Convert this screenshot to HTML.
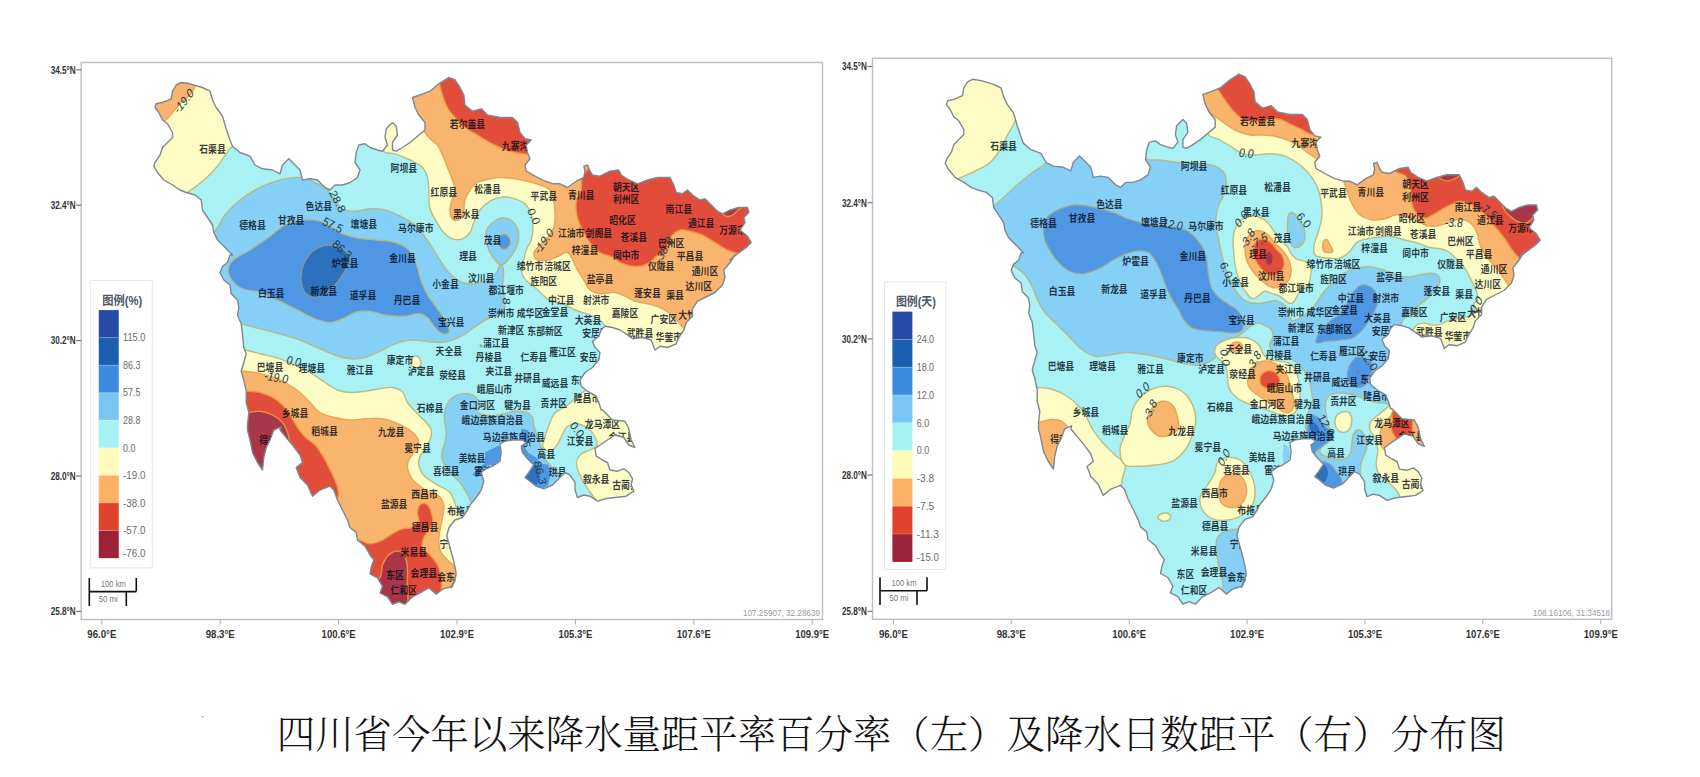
<!DOCTYPE html>
<html lang="zh"><head><meta charset="utf-8"><title>四川省降水分布图</title>
<style>
html,body{margin:0;padding:0;background:#fff;width:1700px;height:777px;overflow:hidden;}
svg{display:block;}
text{font-family:"Liberation Sans","Noto Sans CJK SC",sans-serif;}
.ax{font-size:10.5px;font-weight:bold;fill:#333;}
.lg{font-size:10.5px;fill:#6a6a6a;}
.cty{font-size:10.3px;font-weight:bold;fill:#000814;fill-opacity:0.8;}
.ctr{font-size:12.5px;font-style:italic;fill:#1b3a48;}
</style></head><body>
<svg width="1700" height="777" viewBox="0 0 1700 777">
<defs>
<clipPath id="cl"><path d="M181.2,82.5 L190.0,83.8 L202.5,87.5 L210.0,91.2 L212.5,100.0 L216.2,107.5 L222.5,116.2 L226.2,128.8 L230.0,140.0 L232.5,146.2 L240.0,152.5 L250.0,156.2 L255.0,165.0 L262.5,168.8 L272.5,170.0 L280.0,173.8 L282.5,165.0 L288.8,158.8 L293.8,163.8 L300.0,170.0 L302.5,180.0 L310.0,178.8 L317.5,180.0 L325.0,187.5 L330.0,190.0 L335.0,185.0 L342.5,185.0 L350.0,182.5 L357.5,177.5 L360.0,170.0 L355.0,162.5 L356.2,152.5 L358.8,145.0 L365.0,143.8 L370.0,147.5 L377.5,150.0 L382.5,151.2 L387.5,145.0 L385.0,137.5 L386.2,128.8 L392.5,122.5 L396.2,126.2 L397.5,135.0 L392.5,142.5 L392.5,150.0 L396.2,151.2 L402.5,147.5 L410.0,142.5 L417.5,136.2 L425.0,130.0 L425.0,122.5 L418.8,115.0 L415.0,107.5 L412.5,97.5 L420.0,95.0 L430.0,91.2 L438.8,83.8 L448.8,77.5 L455.0,80.0 L460.0,87.5 L463.8,95.0 L465.0,105.0 L472.5,111.2 L481.2,108.8 L487.5,115.0 L500.0,117.5 L512.5,117.5 L517.5,122.5 L520.0,132.5 L525.0,138.8 L531.2,140.0 L526.2,145.0 L527.5,152.5 L530.0,158.8 L525.0,165.0 L526.2,171.2 L535.0,176.2 L545.0,181.2 L553.8,183.8 L560.0,183.8 L567.5,187.5 L576.2,181.2 L583.8,177.5 L585.0,171.2 L583.8,166.2 L587.5,165.0 L590.0,171.2 L592.5,175.0 L600.0,176.2 L610.0,171.2 L618.8,170.0 L621.2,175.0 L628.8,180.0 L637.5,183.8 L647.5,180.0 L657.5,177.5 L670.0,177.5 L673.8,185.0 L676.2,192.5 L682.5,193.8 L687.5,190.0 L692.5,195.0 L700.0,200.0 L705.0,198.8 L711.2,205.0 L717.5,211.2 L722.5,213.8 L730.0,210.0 L738.8,207.5 L747.5,207.5 L748.8,212.5 L743.8,217.5 L745.0,222.5 L740.0,230.0 L747.5,236.2 L751.2,242.5 L746.2,247.5 L737.5,253.8 L730.0,260.0 L735.0,255.0 L730.0,262.5 L723.8,270.0 L725.0,277.5 L722.5,285.0 L715.0,292.5 L705.0,297.5 L697.5,301.2 L692.5,308.8 L692.5,316.2 L686.2,322.5 L683.8,330.0 L678.8,337.5 L676.2,343.8 L667.5,347.5 L660.0,346.2 L655.0,350.0 L651.2,340.0 L642.5,337.5 L632.5,338.8 L627.5,335.0 L620.0,330.0 L612.5,327.5 L605.0,326.2 L601.2,330.0 L598.8,336.2 L592.5,341.2 L595.0,347.5 L600.0,352.5 L598.8,360.0 L592.5,367.5 L585.0,372.5 L580.0,380.0 L581.2,386.2 L587.5,391.2 L596.2,396.2 L598.8,402.5 L601.2,410.0 L602.5,410.0 L612.5,420.0 L625.0,421.2 L628.8,428.8 L631.2,440.0 L635.0,447.5 L628.8,445.0 L623.8,437.5 L615.0,435.0 L607.5,440.0 L600.0,445.0 L595.0,448.8 L596.2,456.2 L602.5,460.0 L607.5,462.5 L610.0,470.0 L617.5,471.2 L623.8,468.8 L628.8,472.5 L632.5,478.8 L631.2,485.0 L633.8,491.2 L626.2,496.2 L615.0,497.5 L605.0,498.8 L597.5,501.2 L590.0,496.2 L583.8,495.0 L577.5,497.5 L575.0,490.0 L575.0,482.5 L570.0,475.0 L565.0,472.5 L560.0,477.5 L552.5,485.0 L543.8,488.8 L536.2,486.2 L530.0,481.2 L525.0,477.5 L528.8,472.5 L533.8,465.0 L527.5,458.8 L522.5,452.5 L521.2,446.2 L526.2,442.5 L522.5,440.0 L512.5,440.0 L505.0,441.2 L500.0,443.8 L501.2,452.5 L500.0,461.2 L492.5,466.2 L486.2,468.8 L481.2,472.5 L483.8,481.2 L481.2,490.0 L476.2,497.5 L470.0,505.0 L467.5,510.0 L462.5,517.5 L455.0,520.0 L449.0,527.5 L446.8,536.2 L450.0,547.5 L453.5,560.0 L456.0,572.5 L455.0,580.7 L451.2,587.8 L456.2,575.0 L452.5,586.4 L442.5,589.2 L436.2,594.3 L428.8,587.8 L420.0,593.0 L412.5,596.8 L405.0,604.3 L398.8,601.8 L392.5,604.3 L387.5,596.8 L380.0,593.0 L382.5,586.4 L377.5,577.8 L370.0,573.8 L371.2,567.5 L373.8,560.0 L370.0,555.0 L365.0,546.2 L357.5,540.0 L356.2,532.5 L350.0,527.5 L347.5,520.0 L342.5,510.0 L337.5,500.0 L333.8,490.0 L330.0,486.2 L320.0,490.0 L312.5,496.2 L307.5,485.0 L300.0,477.5 L296.2,467.5 L302.5,462.5 L300.0,455.0 L292.5,445.0 L286.2,437.5 L280.0,430.0 L281.0,427.0 L277.0,428.5 L273.8,430.0 L270.0,440.0 L266.2,447.5 L263.8,457.5 L262.5,470.0 L257.5,462.5 L252.5,452.5 L250.0,440.0 L247.5,430.0 L247.5,425.0 L248.8,412.5 L246.2,402.5 L246.2,391.2 L243.8,380.0 L241.2,371.2 L243.8,362.5 L246.2,353.8 L243.8,347.5 L242.5,335.0 L241.2,323.8 L237.5,315.0 L238.8,307.5 L237.5,300.0 L231.2,293.8 L230.0,285.0 L223.8,280.0 L220.0,272.5 L222.5,266.2 L227.5,262.5 L230.0,255.0 L232.5,255.0 L225.0,247.5 L217.5,240.0 L213.8,232.5 L212.5,225.0 L207.5,217.5 L202.5,210.0 L201.2,200.0 L195.0,195.0 L186.2,192.5 L180.0,190.0 L172.5,185.0 L163.8,180.0 L157.5,172.5 L153.8,166.2 L155.0,162.5 L160.0,155.0 L162.5,147.5 L167.5,142.5 L172.5,137.5 L172.5,132.5 L167.5,123.8 L162.5,120.0 L158.8,112.5 L155.0,107.5 L156.2,103.8 L162.5,102.5 L171.2,98.8 L172.5,91.2 L176.2,85.0Z"/></clipPath>
<clipPath id="cr"><path d="M972.5,79.3 L981.2,80.6 L993.7,84.3 L1001.1,88.0 L1003.6,96.9 L1007.3,104.4 L1013.6,113.2 L1017.3,125.8 L1021.1,137.1 L1023.5,143.4 L1031.0,149.7 L1041.0,153.4 L1046.0,162.3 L1053.4,166.1 L1063.4,167.3 L1070.8,171.1 L1073.3,162.3 L1079.6,156.0 L1084.6,161.1 L1090.8,167.3 L1093.3,177.4 L1100.7,176.1 L1108.2,177.4 L1115.7,184.9 L1120.6,187.4 L1125.6,182.4 L1133.1,182.4 L1140.6,179.9 L1148.0,174.8 L1150.5,167.3 L1145.5,159.7 L1146.7,149.7 L1149.3,142.1 L1155.5,140.9 L1160.5,144.7 L1167.9,147.2 L1172.9,148.4 L1177.9,142.1 L1175.4,134.6 L1176.6,125.8 L1182.9,119.5 L1186.6,123.2 L1187.9,132.1 L1182.9,139.6 L1182.9,147.2 L1186.6,148.4 L1192.8,144.7 L1200.3,139.6 L1207.8,133.3 L1215.2,127.1 L1215.2,119.5 L1209.1,112.0 L1205.3,104.4 L1202.8,94.4 L1210.3,91.8 L1220.2,88.0 L1229.0,80.6 L1238.9,74.2 L1245.1,76.8 L1250.1,84.3 L1253.9,91.8 L1255.1,101.9 L1262.5,108.1 L1271.2,105.7 L1277.5,112.0 L1289.9,114.5 L1302.4,114.5 L1307.3,119.5 L1309.8,129.6 L1314.8,135.9 L1321.0,137.1 L1316.0,142.1 L1317.3,149.7 L1319.8,156.0 L1314.8,162.3 L1316.0,168.5 L1324.8,173.5 L1334.7,178.6 L1343.5,181.2 L1349.7,181.2 L1357.1,184.9 L1365.8,178.6 L1373.4,174.8 L1374.6,168.5 L1373.4,163.5 L1377.0,162.3 L1379.5,168.5 L1382.0,172.3 L1389.5,173.5 L1399.5,168.5 L1408.2,167.3 L1410.6,172.3 L1418.2,177.4 L1426.8,181.2 L1436.8,177.4 L1446.8,174.8 L1459.2,174.8 L1463.0,182.4 L1465.4,189.9 L1471.6,191.2 L1476.6,187.4 L1481.6,192.4 L1489.1,197.5 L1494.1,196.3 L1500.2,202.5 L1506.5,208.7 L1511.5,211.4 L1518.9,207.5 L1527.7,205.0 L1536.4,205.0 L1537.7,210.0 L1532.7,215.1 L1533.9,220.1 L1528.9,227.6 L1536.4,233.9 L1540.1,240.2 L1535.1,245.2 L1526.4,251.6 L1518.9,257.8 L1523.9,252.8 L1518.9,260.3 L1512.8,267.9 L1514.0,275.4 L1511.5,283.0 L1504.0,290.5 L1494.1,295.5 L1486.6,299.3 L1481.6,306.9 L1481.6,314.4 L1475.3,320.7 L1472.9,328.2 L1468.0,335.8 L1465.4,342.1 L1456.7,345.8 L1449.2,344.5 L1444.3,348.4 L1440.5,338.3 L1431.8,335.8 L1421.9,337.1 L1416.9,333.3 L1409.4,328.2 L1401.9,325.7 L1394.5,324.4 L1390.7,328.2 L1388.3,334.5 L1382.0,339.5 L1384.5,345.8 L1389.5,350.9 L1388.3,358.4 L1382.0,366.0 L1374.6,371.0 L1369.6,378.5 L1370.8,384.8 L1377.0,389.8 L1385.7,394.8 L1388.3,401.2 L1390.7,408.7 L1392.0,408.7 L1401.9,418.8 L1414.4,420.0 L1418.2,427.6 L1420.6,438.9 L1424.3,446.4 L1418.2,443.9 L1413.2,436.4 L1404.4,433.9 L1397.0,438.9 L1389.5,443.9 L1384.5,447.7 L1385.7,455.2 L1392.0,459.0 L1397.0,461.5 L1399.5,469.1 L1406.9,470.3 L1413.2,467.9 L1418.2,471.6 L1421.9,477.9 L1420.6,484.2 L1423.2,490.4 L1415.6,495.4 L1404.4,496.7 L1394.5,498.0 L1387.0,500.4 L1379.5,495.4 L1373.4,494.2 L1367.1,496.7 L1364.6,489.2 L1364.6,481.6 L1359.6,474.1 L1354.6,471.6 L1349.7,476.6 L1342.2,484.2 L1333.5,488.0 L1326.0,485.4 L1319.8,480.3 L1314.8,476.6 L1318.6,471.6 L1323.6,464.0 L1317.3,457.8 L1312.3,451.5 L1311.0,445.1 L1316.0,441.4 L1312.3,438.9 L1302.4,438.9 L1294.9,440.1 L1289.9,442.7 L1291.1,451.5 L1289.9,460.2 L1282.4,465.2 L1276.2,467.9 L1271.2,471.6 L1273.8,480.3 L1271.2,489.2 L1266.2,496.7 L1260.0,504.3 L1257.6,509.3 L1252.6,516.8 L1245.1,519.4 L1239.1,526.9 L1236.9,535.7 L1240.1,547.0 L1243.6,559.6 L1246.1,572.2 L1245.1,580.4 L1241.3,587.5 L1246.3,574.7 L1242.6,586.1 L1232.7,589.0 L1226.4,594.1 L1219.0,587.5 L1210.3,592.8 L1202.8,596.6 L1195.3,604.2 L1189.1,601.6 L1182.9,604.2 L1177.9,596.6 L1170.4,592.8 L1172.9,586.1 L1167.9,577.5 L1160.5,573.5 L1161.7,567.1 L1164.3,559.6 L1160.5,554.6 L1155.5,545.7 L1148.0,539.5 L1146.7,531.9 L1140.6,526.9 L1138.1,519.4 L1133.1,509.3 L1128.1,499.2 L1124.4,489.2 L1120.6,485.4 L1110.7,489.2 L1103.2,495.4 L1098.2,484.2 L1090.8,476.6 L1087.0,466.5 L1093.3,461.5 L1090.8,454.0 L1083.3,443.9 L1077.0,436.4 L1070.8,428.8 L1071.8,425.8 L1067.9,427.3 L1064.7,428.8 L1060.9,438.9 L1057.1,446.4 L1054.7,456.5 L1053.4,469.1 L1048.4,461.5 L1043.5,451.5 L1041.0,438.9 L1038.5,428.8 L1038.5,423.8 L1039.8,411.2 L1037.2,401.2 L1037.2,389.8 L1034.8,378.5 L1032.2,369.7 L1034.8,360.9 L1037.2,352.2 L1034.8,345.8 L1033.5,333.3 L1032.2,322.0 L1028.5,313.1 L1029.8,305.6 L1028.5,298.1 L1022.3,291.8 L1021.1,283.0 L1014.9,277.9 L1011.1,270.4 L1013.6,264.1 L1018.6,260.3 L1021.1,252.8 L1023.5,252.8 L1016.1,245.2 L1008.6,237.7 L1004.9,230.2 L1003.6,222.6 L998.7,215.1 L993.7,207.5 L992.4,197.5 L986.2,192.4 L977.4,189.9 L971.3,187.4 L963.8,182.4 L955.1,177.4 L948.9,169.8 L945.2,163.5 L946.4,159.7 L951.4,152.2 L953.8,144.7 L958.8,139.6 L963.8,134.6 L963.8,129.6 L958.8,120.8 L953.8,117.0 L950.2,109.5 L946.4,104.4 L947.6,100.7 L953.8,99.4 L962.5,95.7 L963.8,88.0 L967.5,81.8Z"/></clipPath>
</defs>
<rect width="1700" height="777" fill="#fff"/>

<rect x="81.2" y="62.5" width="741.3" height="557" fill="#fff" stroke="#babec8" stroke-width="1.4"/>
<rect x="872.5" y="58.3" width="739.2" height="561" fill="#fff" stroke="#babec8" stroke-width="1.4"/>
<line x1="101.8" y1="619.5" x2="101.8" y2="624.5" stroke="#aab" stroke-width="1"/>
<text class="ax" x="101.8" y="638.0" text-anchor="middle" textLength="29" lengthAdjust="spacingAndGlyphs">96.0°E</text>
<line x1="220.2" y1="619.5" x2="220.2" y2="624.5" stroke="#aab" stroke-width="1"/>
<text class="ax" x="220.2" y="638.0" text-anchor="middle" textLength="29" lengthAdjust="spacingAndGlyphs">98.3°E</text>
<line x1="338.6" y1="619.5" x2="338.6" y2="624.5" stroke="#aab" stroke-width="1"/>
<text class="ax" x="338.6" y="638.0" text-anchor="middle" textLength="34" lengthAdjust="spacingAndGlyphs">100.6°E</text>
<line x1="457.0" y1="619.5" x2="457.0" y2="624.5" stroke="#aab" stroke-width="1"/>
<text class="ax" x="457.0" y="638.0" text-anchor="middle" textLength="34" lengthAdjust="spacingAndGlyphs">102.9°E</text>
<line x1="575.4" y1="619.5" x2="575.4" y2="624.5" stroke="#aab" stroke-width="1"/>
<text class="ax" x="575.4" y="638.0" text-anchor="middle" textLength="34" lengthAdjust="spacingAndGlyphs">105.3°E</text>
<line x1="693.8" y1="619.5" x2="693.8" y2="624.5" stroke="#aab" stroke-width="1"/>
<text class="ax" x="693.8" y="638.0" text-anchor="middle" textLength="34" lengthAdjust="spacingAndGlyphs">107.6°E</text>
<line x1="812.2" y1="619.5" x2="812.2" y2="624.5" stroke="#aab" stroke-width="1"/>
<text class="ax" x="812.2" y="638.0" text-anchor="middle" textLength="34" lengthAdjust="spacingAndGlyphs">109.9°E</text>
<line x1="76.2" y1="69.8" x2="81.2" y2="69.8" stroke="#777" stroke-width="1.2"/>
<text class="ax" x="75.7" y="73.6" text-anchor="end" textLength="25" lengthAdjust="spacingAndGlyphs">34.5°N</text>
<line x1="76.2" y1="205.2" x2="81.2" y2="205.2" stroke="#777" stroke-width="1.2"/>
<text class="ax" x="75.7" y="209.0" text-anchor="end" textLength="25" lengthAdjust="spacingAndGlyphs">32.4°N</text>
<line x1="76.2" y1="340.6" x2="81.2" y2="340.6" stroke="#777" stroke-width="1.2"/>
<text class="ax" x="75.7" y="344.4" text-anchor="end" textLength="25" lengthAdjust="spacingAndGlyphs">30.2°N</text>
<line x1="76.2" y1="476.0" x2="81.2" y2="476.0" stroke="#777" stroke-width="1.2"/>
<text class="ax" x="75.7" y="479.8" text-anchor="end" textLength="25" lengthAdjust="spacingAndGlyphs">28.0°N</text>
<line x1="76.2" y1="611.4" x2="81.2" y2="611.4" stroke="#777" stroke-width="1.2"/>
<text class="ax" x="75.7" y="615.2" text-anchor="end" textLength="25" lengthAdjust="spacingAndGlyphs">25.8°N</text>
<line x1="893.4" y1="619.3" x2="893.4" y2="624.3" stroke="#aab" stroke-width="1"/>
<text class="ax" x="893.4" y="637.8" text-anchor="middle" textLength="29" lengthAdjust="spacingAndGlyphs">96.0°E</text>
<line x1="1011.2" y1="619.3" x2="1011.2" y2="624.3" stroke="#aab" stroke-width="1"/>
<text class="ax" x="1011.2" y="637.8" text-anchor="middle" textLength="29" lengthAdjust="spacingAndGlyphs">98.3°E</text>
<line x1="1129.2" y1="619.3" x2="1129.2" y2="624.3" stroke="#aab" stroke-width="1"/>
<text class="ax" x="1129.2" y="637.8" text-anchor="middle" textLength="34" lengthAdjust="spacingAndGlyphs">100.6°E</text>
<line x1="1247.1" y1="619.3" x2="1247.1" y2="624.3" stroke="#aab" stroke-width="1"/>
<text class="ax" x="1247.1" y="637.8" text-anchor="middle" textLength="34" lengthAdjust="spacingAndGlyphs">102.9°E</text>
<line x1="1365.0" y1="619.3" x2="1365.0" y2="624.3" stroke="#aab" stroke-width="1"/>
<text class="ax" x="1365.0" y="637.8" text-anchor="middle" textLength="34" lengthAdjust="spacingAndGlyphs">105.3°E</text>
<line x1="1482.8" y1="619.3" x2="1482.8" y2="624.3" stroke="#aab" stroke-width="1"/>
<text class="ax" x="1482.8" y="637.8" text-anchor="middle" textLength="34" lengthAdjust="spacingAndGlyphs">107.6°E</text>
<line x1="1600.8" y1="619.3" x2="1600.8" y2="624.3" stroke="#aab" stroke-width="1"/>
<text class="ax" x="1600.8" y="637.8" text-anchor="middle" textLength="34" lengthAdjust="spacingAndGlyphs">109.9°E</text>
<line x1="867.5" y1="66.5" x2="872.5" y2="66.5" stroke="#777" stroke-width="1.2"/>
<text class="ax" x="867.0" y="70.3" text-anchor="end" textLength="25" lengthAdjust="spacingAndGlyphs">34.5°N</text>
<line x1="867.5" y1="202.7" x2="872.5" y2="202.7" stroke="#777" stroke-width="1.2"/>
<text class="ax" x="867.0" y="206.5" text-anchor="end" textLength="25" lengthAdjust="spacingAndGlyphs">32.4°N</text>
<line x1="867.5" y1="338.9" x2="872.5" y2="338.9" stroke="#777" stroke-width="1.2"/>
<text class="ax" x="867.0" y="342.7" text-anchor="end" textLength="25" lengthAdjust="spacingAndGlyphs">30.2°N</text>
<line x1="867.5" y1="475.1" x2="872.5" y2="475.1" stroke="#777" stroke-width="1.2"/>
<text class="ax" x="867.0" y="478.9" text-anchor="end" textLength="25" lengthAdjust="spacingAndGlyphs">28.0°N</text>
<line x1="867.5" y1="611.3" x2="872.5" y2="611.3" stroke="#777" stroke-width="1.2"/>
<text class="ax" x="867.0" y="615.1" text-anchor="end" textLength="25" lengthAdjust="spacingAndGlyphs">25.8°N</text>
<g clip-path="url(#cl)"><rect x="140" y="70" width="640" height="550" fill="#a9f1f4"/>
<path d="M200.0,240.0C202.5,235.4 209.9,236.1 213.8,232.5C218.8,227.8 220.6,220.4 225.0,215.0C229.4,209.5 234.5,204.4 240.0,200.0C246.2,195.1 253.0,191.0 260.0,187.5C266.4,184.3 273.1,181.7 280.0,180.0C286.5,178.4 293.3,176.8 300.0,177.5C305.2,178.0 310.2,180.3 315.0,182.5C319.4,184.5 323.9,186.7 327.5,190.0C330.6,192.8 332.4,196.7 335.0,200.0C337.4,203.1 339.1,207.0 342.5,209.0C346.2,211.1 350.8,211.2 355.0,211.2C360.1,211.3 364.9,209.0 370.0,208.8C375.0,208.5 380.1,208.8 385.0,210.0C390.2,211.2 395.2,213.6 400.0,216.0C405.6,218.8 411.3,221.8 416.0,226.0C421.2,230.7 424.8,236.8 428.8,242.5C431.9,246.9 434.5,251.7 437.5,256.2C441.5,262.2 444.9,268.7 450.0,273.8C453.6,277.3 457.7,280.7 462.5,282.5C466.4,284.0 470.8,284.2 475.0,283.8C479.3,283.3 483.7,282.1 487.5,280.0C491.1,278.0 494.3,275.1 497.0,272.0C498.8,269.9 498.5,264.7 501.2,265.0C503.7,265.3 503.2,269.6 503.5,272.0C504.1,277.0 502.3,282.0 502.5,287.0C502.7,292.1 504.9,296.9 505.0,302.0C505.0,305.0 505.3,308.4 503.8,311.0C502.7,312.7 500.7,313.6 499.0,314.5C496.2,316.0 492.9,316.2 490.0,317.5C485.6,319.5 481.6,322.4 477.5,325.0C473.2,327.8 469.4,331.1 465.0,333.8C461.0,336.1 456.9,338.5 452.5,340.0C448.5,341.4 444.2,342.3 440.0,342.5C435.0,342.8 430.0,341.7 425.0,341.2C420.0,340.8 415.0,339.6 410.0,340.0C404.9,340.4 399.8,342.0 395.0,343.8C389.8,345.7 385.1,348.9 380.0,351.2C375.1,353.5 370.3,356.2 365.0,357.5C360.1,358.7 355.0,359.2 350.0,358.8C344.9,358.3 339.9,356.6 335.0,355.0C329.9,353.3 325.0,350.9 320.0,348.8C313.3,345.9 306.8,342.5 300.0,340.0C291.8,337.0 283.4,334.8 275.0,332.5C268.4,330.7 261.7,329.2 255.0,327.5C250.0,326.2 245.1,324.6 240.0,323.8C234.1,322.7 227.3,324.9 222.0,322.0C213.9,317.5 208.4,308.6 205.0,300.0C197.7,281.3 190.5,257.7 200.0,240.0Z" fill="#86d0f7" stroke="#b5b77c" stroke-width="1.4" stroke-opacity="0.9"/>
<path d="M501.2,265.0C498.6,265.0 496.8,262.0 495.0,260.0C492.4,257.1 490.3,253.6 488.8,250.0C487.4,246.8 486.7,243.4 486.2,240.0C485.9,237.1 485.4,234.0 486.2,231.2C487.1,228.4 489.0,225.7 491.2,223.8C494.4,220.9 498.3,218.3 502.5,218.0C506.0,217.7 509.7,219.1 512.5,221.2C514.9,223.1 516.4,225.9 517.5,228.8C518.6,231.5 518.9,234.6 518.8,237.5C518.6,240.9 517.6,244.3 516.2,247.5C514.7,251.1 512.6,254.5 510.0,257.5C507.5,260.4 505.1,264.9 501.2,265.0Z" fill="#86d0f7" stroke="#b5b77c" stroke-width="1.4" stroke-opacity="0.9"/>
<path d="M450.0,400.0C452.0,397.7 454.7,396.0 457.5,395.0C460.6,393.8 464.2,393.3 467.5,393.8C470.6,394.2 473.9,395.4 476.2,397.5C478.1,399.1 479.7,401.3 480.0,403.8C480.3,406.4 476.5,408.8 477.5,411.2C478.6,413.8 482.3,414.3 485.0,415.0C488.2,415.9 491.7,415.8 495.0,415.6C498.4,415.4 501.7,414.6 505.0,413.8C507.6,413.1 509.9,411.7 512.5,411.2C515.0,410.8 517.5,411.0 520.0,411.2C522.5,411.5 525.2,411.3 527.5,412.5C529.6,413.6 531.4,415.4 532.5,417.5C533.7,419.8 533.1,422.5 533.8,425.0C534.4,427.6 535.5,430.0 536.2,432.5C537.1,435.4 537.7,438.4 538.8,441.2C539.8,444.2 541.4,447.0 542.5,450.0C543.5,452.9 543.6,456.1 545.0,458.8C546.2,461.1 548.2,463.0 550.0,465.0C551.6,466.8 553.4,468.2 555.0,470.0C556.8,472.0 559.5,473.6 560.0,476.2C560.6,479.2 559.0,482.4 557.5,485.0C555.7,488.0 552.9,490.5 550.0,492.5C544.7,496.1 538.5,497.8 532.5,500.0C521.9,503.9 511.3,509.7 500.0,510.0C490.4,510.3 479.6,508.9 472.0,503.0C470.2,501.6 469.9,499.0 468.8,497.0C465.9,492.1 463.5,486.9 460.0,482.5C457.1,478.8 452.9,476.2 450.0,472.5C447.0,468.7 444.0,464.6 442.5,460.0C441.7,457.6 441.6,455.0 441.9,452.5C442.3,449.0 444.3,445.9 445.0,442.5C445.7,439.2 446.3,435.9 446.2,432.5C446.2,428.3 444.6,424.2 444.4,420.0C444.2,416.7 444.1,413.2 445.0,410.0C446.0,406.4 447.5,402.8 450.0,400.0Z" fill="#86d0f7" stroke="#b5b77c" stroke-width="1.4" stroke-opacity="0.9"/>
<path d="M229.5,265.0C230.6,262.5 232.9,260.5 235.0,258.8C239.5,255.1 245.1,253.1 250.0,250.0C256.8,245.7 263.4,241.0 270.0,236.2C275.1,232.6 279.4,227.7 285.0,225.0C291.2,222.0 298.2,220.6 305.0,220.0C310.0,219.6 315.2,219.9 320.0,221.2C323.6,222.3 326.7,224.4 330.0,226.2C333.4,228.2 336.4,230.8 340.0,232.5C344.8,234.7 349.9,236.3 355.0,237.5C361.6,239.0 368.3,239.2 375.0,240.0C381.7,240.8 388.6,240.6 395.0,242.5C399.5,243.8 404.0,245.7 407.5,248.8C410.2,251.1 412.1,254.3 413.8,257.5C415.4,260.6 416.4,264.1 417.5,267.5C418.5,270.8 419.0,274.2 420.0,277.5C421.1,280.9 422.3,284.2 423.8,287.5C424.9,290.1 426.1,292.6 427.5,295.0C429.0,297.5 430.8,299.7 432.5,302.0C435.0,305.5 437.6,308.9 440.0,312.5C442.7,316.6 445.8,320.4 447.5,325.0C448.4,327.4 450.2,330.4 448.8,332.5C447.5,334.2 444.6,334.3 442.5,333.8C439.3,332.9 437.2,329.9 435.0,327.5C432.1,324.5 430.7,320.2 427.5,317.5C425.4,315.7 422.8,314.2 420.0,313.8C415.0,313.0 410.1,316.0 405.0,316.2C398.3,316.6 391.6,316.0 385.0,315.0C379.9,314.2 375.1,311.7 370.0,311.2C365.0,310.8 359.8,311.1 355.0,312.5C350.5,313.8 346.8,317.0 342.5,318.8C338.5,320.4 334.3,322.4 330.0,322.5C324.8,322.6 319.8,320.5 315.0,318.8C309.8,316.8 305.0,313.8 300.0,311.2C293.3,307.9 286.7,304.4 280.0,301.2C273.4,298.2 266.9,294.8 260.0,292.5C253.5,290.3 246.1,290.7 240.0,287.5C237.1,286.0 234.5,283.6 232.5,281.0C230.7,278.6 229.0,275.9 228.5,273.0C228.0,270.4 228.4,267.5 229.5,265.0Z" fill="#4f96e4" stroke="#b5b77c" stroke-width="1.4" stroke-opacity="0.9"/>
<path d="M504.0,234.0C505.9,233.9 507.8,235.4 509.0,237.0C510.2,238.7 510.8,241.0 510.5,243.0C510.2,245.1 508.9,247.4 507.0,248.5C505.6,249.4 503.6,249.6 502.0,249.0C500.4,248.3 499.2,246.6 498.5,245.0C497.7,243.2 497.2,240.9 498.0,239.0C499.0,236.6 501.4,234.2 504.0,234.0Z" fill="#4f96e4" stroke="#b5b77c" stroke-width="1.4" stroke-opacity="0.9"/>
<path d="M485.6,451.9 L498.1,446.0 L500.2,446.5 L501.2,458.1 L494.4,466.2 L489.4,464.4 L481.9,470.0 L477.5,477.5 L472.5,475.0 L476.9,468.8 L484.4,463.8Z" fill="#4f96e4"/>
<path d="M521.2,428.8 L528.1,430.0 L530.0,440.0 L523.8,446.2 L528.1,452.5 L536.2,457.5 L541.2,463.8 L548.1,464.4 L550.6,473.8 L548.1,485.6 L540.0,490.0 L535.0,486.2 L522.5,475.0 L530.0,467.5 L525.0,460.0 L521.2,452.5Z" fill="#4f96e4"/>
<path d="M327.5,245.0C331.7,244.8 336.2,245.6 340.0,247.5C343.9,249.4 348.6,251.9 350.0,256.0C351.0,258.9 349.1,262.1 348.0,265.0C346.7,268.6 344.6,271.8 342.5,275.0C340.2,278.5 337.9,282.0 335.0,285.0C332.0,288.2 328.8,291.3 325.0,293.5C321.6,295.5 317.9,297.8 314.0,297.5C310.6,297.2 307.2,295.1 305.0,292.5C302.7,289.8 301.7,286.0 301.2,282.5C300.6,277.5 301.1,272.3 302.5,267.5C303.8,263.0 306.0,258.6 309.0,255.0C311.4,252.1 314.6,249.8 318.0,248.0C320.9,246.5 324.2,245.2 327.5,245.0Z" fill="#2d70bd" stroke="#8a9a9a" stroke-width="1.4" stroke-opacity="0.9"/>
<path d="M523.8,476.2 L530.6,468.8 L535.0,464.4 L538.1,467.5 L540.0,477.5 L536.5,485.0 L530.0,481.9Z" fill="#2d70bd"/>
<path d="M130.0,60.0C158.3,31.7 224.6,29.1 250.0,60.0C268.3,82.3 245.6,119.0 233.0,145.0C232.0,147.0 230.1,148.3 228.8,150.0C224.7,155.2 221.7,161.2 217.5,166.2C213.0,171.7 207.9,176.7 202.5,181.2C197.0,185.9 191.2,190.2 185.0,193.8C177.1,198.3 168.9,203.1 160.0,205.0C150.2,207.1 137.1,212.1 130.0,205.0C95.8,170.8 95.8,94.2 130.0,60.0Z" fill="#fdfcc5" stroke="#b5b77c" stroke-width="1.4" stroke-opacity="0.9"/>
<path d="M383.8,151.2C386.2,154.2 391.3,152.6 395.0,153.8C400.2,155.4 405.2,157.6 410.0,160.0C414.3,162.2 419.2,163.9 422.5,167.5C425.0,170.2 426.5,173.9 427.5,177.5C428.7,181.5 428.4,185.8 428.8,190.0C429.3,196.2 428.4,202.7 430.0,208.8C431.2,213.2 433.9,217.2 436.2,221.2C438.5,225.1 440.6,229.3 443.8,232.5C446.2,235.1 449.1,237.7 452.5,238.8C455.7,239.8 459.4,239.9 462.5,238.8C465.6,237.6 468.1,235.2 470.0,232.5C472.1,229.6 472.3,225.8 473.8,222.5C475.6,218.2 477.2,213.7 480.0,210.0C482.7,206.5 486.2,203.5 490.0,201.2C493.8,199.0 498.1,197.3 502.5,196.9C506.7,196.5 511.0,197.5 515.0,198.8C518.6,199.9 522.3,201.2 525.0,203.8C528.1,206.7 529.9,210.9 531.2,215.0C532.6,219.0 533.0,223.3 533.0,227.5C533.0,231.7 532.5,236.0 531.2,240.0C530.1,243.6 527.5,246.5 526.2,250.0C525.1,253.2 524.6,256.7 523.8,260.0C522.9,263.3 521.1,266.6 521.2,270.0C521.4,272.6 522.4,275.3 523.8,277.5C525.3,280.0 527.8,281.8 530.0,283.8C531.6,285.1 533.4,286.2 535.0,287.5C539.3,291.1 542.7,295.9 547.5,298.8C552.8,301.9 559.3,302.6 565.0,305.0C568.4,306.5 571.6,308.6 575.0,310.0C579.9,312.0 585.1,313.0 590.0,315.0C593.4,316.4 597.1,317.7 600.0,320.0C602.4,321.9 604.0,324.7 606.0,327.0C617.2,339.8 624.5,358.1 640.0,365.0C694.8,389.5 777.6,407.4 820.0,365.0C896.6,288.4 896.6,116.6 820.0,40.0C717.0,-63.0 485.7,-63.3 383.0,40.0C356.9,66.3 360.4,122.4 383.8,151.2Z" fill="#fdfcc5" stroke="#b5b77c" stroke-width="1.4" stroke-opacity="0.9"/>
<path d="M243.8,350.0C249.3,350.6 254.6,352.5 260.0,353.8C266.7,355.4 273.5,356.6 280.0,358.8C285.1,360.5 290.1,362.7 295.0,365.0C300.1,367.3 305.2,369.7 310.0,372.5C315.2,375.5 319.9,379.3 325.0,382.5C329.1,385.1 333.0,388.2 337.5,390.0C341.5,391.5 345.8,392.3 350.0,392.5C355.0,392.8 360.0,391.9 365.0,391.2C370.0,390.6 375.0,389.4 380.0,388.8C384.2,388.2 388.4,386.8 392.5,387.5C396.1,388.1 399.9,389.4 402.5,392.0C405.3,394.7 405.4,399.3 407.5,402.5C410.3,406.7 414.1,410.1 417.5,413.8C419.9,416.3 422.7,418.6 425.0,421.2C427.3,424.0 430.4,426.5 431.2,430.0C432.1,433.3 431.1,436.8 430.0,440.0C428.9,443.2 426.8,445.9 425.0,448.8C423.4,451.3 421.1,453.4 420.0,456.2C418.9,459.0 418.4,462.1 418.8,465.0C419.2,468.1 420.6,471.2 422.5,473.8C424.8,476.8 428.1,479.1 431.2,481.2C434.8,483.7 438.8,485.3 442.5,487.5C445.1,489.1 448.0,490.3 450.0,492.5C451.4,494.0 452.1,496.1 453.0,498.0C454.2,500.6 454.9,503.4 456.0,506.0C456.9,508.4 457.7,510.8 459.0,513.0C460.4,515.2 462.4,517.0 464.0,519.0C469.5,525.9 477.2,531.7 480.0,540.0C488.5,565.3 498.9,601.1 480.0,620.0C414.0,686.0 266.0,686.0 200.0,620.0C136.4,556.4 136.4,413.6 200.0,350.0C210.3,339.7 229.3,348.3 243.8,350.0Z" fill="#fdfcc5" stroke="#b5b77c" stroke-width="1.4" stroke-opacity="0.9"/>
<path d="M592.0,388.0C588.8,388.7 585.8,390.2 583.0,392.0C580.0,393.9 577.7,396.7 575.0,399.0C571.7,401.7 568.5,404.6 565.0,407.0C561.8,409.2 557.6,410.1 555.0,413.0C552.0,416.3 550.7,420.9 549.0,425.0C547.4,428.9 546.1,432.9 545.0,437.0C544.1,440.3 541.6,443.9 543.0,447.0C544.1,449.4 547.3,451.3 550.0,451.0C553.1,450.7 555.1,447.4 557.0,445.0C559.3,442.1 560.2,438.3 562.0,435.0C563.5,432.3 564.6,429.1 567.0,427.0C569.2,425.1 572.1,423.8 575.0,423.5C577.4,423.3 579.8,424.1 582.0,425.0C584.9,426.2 587.7,427.8 590.0,430.0C592.1,432.0 593.8,434.4 595.0,437.0C596.2,439.5 597.9,442.4 597.0,445.0C596.0,447.7 592.5,448.6 590.0,450.0C587.1,451.6 583.4,451.8 581.0,454.0C578.7,456.1 577.0,459.0 576.5,462.0C576.0,465.4 577.4,468.8 578.5,472.0C579.7,475.5 581.6,478.8 583.5,482.0C585.5,485.5 587.8,488.7 590.0,492.0C592.3,495.4 595.3,498.3 597.0,502.0C599.7,507.6 597.0,516.2 602.0,520.0C625.4,537.8 669.3,540.7 690.0,520.0C721.8,488.2 722.3,416.3 690.0,385.0C666.5,362.2 623.9,380.7 592.0,388.0Z" fill="#fdfcc5" stroke="#b5b77c" stroke-width="1.4" stroke-opacity="0.9"/>
<path d="M415.5,356.0C417.3,356.0 419.1,357.4 420.0,359.0C421.0,360.7 421.4,363.2 420.5,365.0C419.7,366.6 417.8,368.0 416.0,368.0C414.2,368.0 412.4,366.6 411.5,365.0C410.5,363.3 410.1,360.8 411.0,359.0C411.8,357.4 413.7,356.0 415.5,356.0Z" fill="#fdfcc5" stroke="#b5b77c" stroke-width="1.4" stroke-opacity="0.9"/>
<path d="M140.0,60.0C153.2,46.8 183.3,46.4 196.0,60.0C202.6,67.1 197.9,80.1 194.0,89.0C191.3,95.3 184.7,99.0 180.0,104.0C174.1,110.3 169.3,117.7 162.5,123.0C155.8,128.2 147.3,139.4 140.0,135.0C118.6,122.1 122.3,77.7 140.0,60.0Z" fill="#f9b56e" stroke="#e2a24e" stroke-width="1.4" stroke-opacity="0.9"/>
<path d="M405.0,95.0C407.2,104.1 413.6,111.7 418.0,120.0C420.0,123.7 421.7,127.5 424.0,131.0C425.8,133.7 427.7,136.4 430.0,138.8C432.3,141.1 435.5,142.4 437.5,145.0C439.8,147.9 441.0,151.6 442.5,155.0C444.3,159.1 445.8,163.3 447.5,167.5C449.2,171.7 451.1,175.7 452.5,180.0C453.6,183.3 455.1,186.6 455.0,190.0C454.9,194.3 452.1,198.2 451.2,202.5C450.6,205.8 449.4,209.2 450.0,212.5C450.5,215.3 451.2,218.8 453.8,220.0C455.7,220.9 458.4,220.1 460.0,218.8C462.5,216.8 462.9,213.1 463.8,210.0C464.6,206.8 464.0,203.2 465.0,200.0C466.1,196.4 467.9,193.1 470.0,190.0C471.7,187.4 473.4,184.7 476.0,183.0C478.6,181.2 481.9,180.8 485.0,180.0C489.9,178.8 494.9,177.7 500.0,177.5C505.0,177.3 510.0,178.0 515.0,178.8C519.2,179.3 523.4,180.2 527.5,181.2C531.7,182.3 536.0,183.4 540.0,185.0C543.5,186.4 547.6,187.2 550.0,190.0C552.8,193.3 553.2,198.2 554.0,202.5C554.8,206.6 555.0,210.8 555.0,215.0C555.0,219.2 555.1,223.5 553.8,227.5C552.5,231.2 549.9,234.4 547.5,237.5C544.9,240.7 541.4,243.1 538.8,246.2C536.8,248.6 533.8,250.7 533.8,253.8C533.7,256.2 535.4,258.8 537.5,260.0C540.4,261.6 544.2,260.5 547.5,260.0C551.4,259.4 555.1,257.7 558.8,256.2C561.7,255.1 564.5,251.6 567.5,252.5C570.4,253.4 571.0,257.4 572.5,260.0C574.4,263.2 575.7,266.7 577.5,270.0C579.4,273.4 581.7,276.7 583.8,280.0C585.8,283.3 587.0,287.5 590.0,290.0C592.8,292.3 596.5,293.3 600.0,293.8C605.0,294.4 610.0,291.8 615.0,292.5C618.5,293.0 621.7,294.8 625.0,296.2C628.4,297.7 631.5,300.0 635.0,301.2C639.0,302.6 643.4,302.7 647.5,303.8C651.7,304.8 656.0,305.7 660.0,307.5C663.6,309.1 666.9,311.3 670.0,313.8C672.8,316.0 675.0,318.7 677.5,321.2C680.0,323.8 681.8,327.3 685.0,329.0C695.5,334.5 708.2,336.0 720.0,335.0C755.2,332.1 799.6,328.8 820.0,300.0C870.1,229.3 881.3,101.3 820.0,40.0C722.2,-57.8 502.8,-57.8 405.0,40.0C392.0,53.0 400.6,77.2 405.0,95.0Z" fill="#f9b56e" stroke="#e2a24e" stroke-width="1.4" stroke-opacity="0.9"/>
<path d="M242.5,371.2C246.7,371.4 250.9,371.8 255.0,372.5C260.1,373.4 265.1,374.6 270.0,376.2C275.1,378.0 280.2,379.9 285.0,382.5C290.3,385.3 295.4,388.7 300.0,392.5C303.6,395.5 306.7,399.2 310.0,402.5C313.3,405.8 316.0,410.0 320.0,412.5C324.5,415.3 329.9,416.2 335.0,417.5C339.9,418.7 344.9,419.8 350.0,420.0C355.0,420.2 360.0,419.0 365.0,418.8C370.8,418.5 376.7,417.9 382.5,418.8C386.8,419.4 391.0,420.9 395.0,422.5C399.3,424.2 403.6,426.2 407.5,428.8C410.7,430.9 414.1,433.1 416.2,436.2C417.7,438.4 419.0,441.1 418.8,443.8C418.4,447.1 415.5,449.6 413.8,452.5C412.2,455.1 409.9,457.2 408.8,460.0C407.8,462.4 407.3,465.0 407.5,467.5C407.8,471.0 409.3,474.5 411.2,477.5C413.5,481.0 416.8,483.7 420.0,486.2C423.1,488.7 426.5,490.6 430.0,492.5C433.2,494.2 437.4,494.4 440.0,497.0C442.1,499.1 443.3,502.1 443.8,505.0C444.5,509.1 443.1,513.4 442.5,517.5C441.9,521.7 440.6,525.8 440.0,530.0C439.4,534.1 438.4,538.3 438.8,542.5C439.0,545.9 439.7,549.4 441.2,552.5C442.7,555.4 445.2,557.7 447.5,560.0C450.1,562.6 453.1,564.8 456.0,567.0C462.1,571.6 471.4,573.2 475.0,580.0C482.0,593.3 485.6,614.4 475.0,625.0C410.2,689.8 264.8,689.8 200.0,625.0C140.4,565.4 140.9,432.2 200.0,372.0C209.9,361.9 228.3,370.7 242.5,371.2Z" fill="#f9b56e" stroke="#e2a24e" stroke-width="1.4" stroke-opacity="0.9"/>
<path d="M438.8,80.0C439.7,85.1 440.9,90.1 442.5,95.0C443.9,99.3 445.3,103.6 447.5,107.5C449.5,111.1 452.3,114.4 455.0,117.5C458.1,121.1 461.3,124.6 465.0,127.5C468.8,130.5 473.3,132.5 477.5,135.0C481.7,137.5 485.7,140.2 490.0,142.5C494.1,144.7 498.2,147.0 502.5,148.8C506.5,150.4 510.7,151.7 515.0,152.5C519.9,153.4 525.0,154.2 530.0,153.8C535.1,153.3 541.8,154.1 545.0,150.0C563.5,126.4 566.2,81.2 545.0,60.0C519.3,34.3 459.9,32.6 436.0,60.0C431.6,65.1 437.5,73.4 438.8,80.0Z" fill="#e24d3b" stroke="#f0983c" stroke-width="1.4" stroke-opacity="0.9"/>
<path d="M588.0,168.0C586.8,171.7 583.2,174.3 582.0,178.0C580.8,181.8 582.1,186.1 581.2,190.0C580.3,194.4 576.9,198.1 576.2,202.5C575.5,207.5 576.3,212.6 577.5,217.5C578.5,221.9 580.5,226.0 582.5,230.0C584.7,234.4 587.0,238.7 590.0,242.5C592.9,246.2 596.0,250.0 600.0,252.5C603.7,254.9 608.6,254.9 612.5,257.0C615.2,258.5 617.2,261.1 620.0,262.5C623.9,264.4 628.2,265.8 632.5,266.2C636.7,266.7 641.1,266.4 645.0,265.0C647.8,264.0 650.1,261.8 652.5,260.0C654.5,258.5 655.7,255.9 658.0,255.0C659.4,254.5 661.2,255.8 662.5,255.0C665.7,253.0 665.8,248.3 667.5,245.0C669.2,241.7 670.0,237.8 672.5,235.0C674.5,232.7 677.1,230.7 680.0,230.0C683.3,229.2 686.7,230.6 690.0,231.2C694.3,232.1 698.5,233.2 702.5,235.0C706.9,237.0 710.8,240.0 715.0,242.5C719.2,245.0 723.1,248.0 727.5,250.0C731.5,251.8 735.7,253.3 740.0,254.0C749.9,255.7 762.5,261.6 770.0,255.0C796.4,231.8 803.7,176.0 780.0,150.0C737.4,103.1 637.2,107.8 590.0,150.0C585.5,154.0 589.9,162.3 588.0,168.0Z" fill="#e24d3b" stroke="#f0983c" stroke-width="1.4" stroke-opacity="0.9"/>
<path d="M246.2,391.2C250.9,391.4 255.5,391.4 260.0,392.5C264.4,393.5 268.6,395.3 272.5,397.5C276.1,399.5 279.6,402.1 282.5,405.0C285.4,407.9 287.7,411.5 290.0,415.0C292.7,419.0 294.7,423.5 297.5,427.5C299.8,430.8 302.2,434.1 305.0,437.0C308.0,440.0 312.1,441.9 315.0,445.0C319.1,449.4 322.0,454.8 325.0,460.0C327.8,464.8 330.2,469.9 332.5,475.0C334.3,479.1 336.5,483.1 337.5,487.5C338.2,490.6 339.4,494.1 338.0,497.0C334.8,503.7 327.0,507.7 320.0,510.0C291.5,519.2 251.2,531.2 230.0,510.0C202.2,482.2 202.8,420.4 230.0,392.0C233.7,388.1 240.8,391.1 246.2,391.2Z" fill="#e24d3b" stroke="#f0983c" stroke-width="1.4" stroke-opacity="0.9"/>
<path d="M357.5,540.0C361.9,540.0 365.6,543.8 370.0,543.8C374.4,543.8 378.5,541.8 382.5,540.0C386.1,538.4 389.1,535.7 392.5,533.8C395.8,531.9 398.9,529.8 402.5,528.8C405.7,527.8 409.4,528.8 412.5,527.5C415.0,526.5 417.7,525.0 418.8,522.5C420.0,519.4 417.2,515.8 417.5,512.5C417.8,509.9 418.0,506.7 420.0,505.0C421.6,503.6 424.3,503.1 426.2,504.0C429.2,505.4 430.2,509.4 431.2,512.5C432.3,515.7 433.1,519.2 432.5,522.5C432.0,525.3 430.2,527.6 428.8,530.0C427.2,532.6 424.8,534.7 423.8,537.5C422.6,540.6 421.4,544.3 422.5,547.5C423.6,550.8 427.7,552.3 430.0,555.0C432.7,558.1 435.6,561.3 437.5,565.0C439.5,568.9 440.6,573.2 441.2,577.5C442.0,582.3 441.3,587.2 441.2,592.0C441.0,603.0 447.9,617.4 440.0,625.0C416.0,648.1 363.6,648.6 340.0,625.0C321.1,606.1 323.9,566.3 340.0,545.0C343.7,540.2 351.4,540.0 357.5,540.0Z" fill="#e24d3b" stroke="#f0983c" stroke-width="1.4" stroke-opacity="0.9"/>
<path d="M248.8,412.5C252.5,412.2 256.2,410.9 260.0,411.2C264.3,411.6 268.6,413.0 272.5,415.0C276.2,416.9 279.8,419.3 282.5,422.5C284.9,425.4 286.2,429.0 287.5,432.5C288.7,435.7 289.2,439.2 290.0,442.5C290.7,445.7 292.7,448.8 292.0,452.0C289.3,463.6 280.7,474.8 270.0,480.0C259.5,485.1 243.2,488.2 235.0,480.0C219.2,464.2 219.5,429.1 235.0,413.0C238.2,409.7 244.2,412.8 248.8,412.5Z" fill="#a93548" stroke="#f0983c" stroke-width="1.4" stroke-opacity="0.9"/>
<path d="M380.0,577.5C382.4,574.0 381.0,569.0 382.5,565.0C383.7,561.9 385.2,558.7 387.5,556.2C389.6,554.1 392.1,551.9 395.0,551.2C397.5,550.7 400.5,551.0 402.5,552.5C404.7,554.2 405.5,557.3 406.2,560.0C407.4,564.0 407.4,568.3 407.5,572.5C407.7,577.5 407.2,582.5 407.0,587.5C406.8,593.7 410.1,601.2 406.2,606.0C398.4,615.6 381.1,620.7 370.0,615.0C362.0,610.9 357.2,598.5 360.0,590.0C362.4,582.5 375.5,584.0 380.0,577.5Z" fill="#a93548" stroke="#f0983c" stroke-width="1.4" stroke-opacity="0.9"/>
<path d="M718.0,209.0C718.7,210.7 720.6,211.8 722.0,213.0C723.4,214.2 724.7,215.9 726.5,216.3C728.5,216.8 730.7,216.1 732.5,215.2C734.5,214.2 735.8,212.0 737.5,210.5C738.9,209.3 740.5,208.1 742.0,207.0C743.6,205.8 746.1,205.3 747.0,203.5C748.3,201.0 749.0,197.0 747.0,195.0C740.2,188.2 724.8,188.2 718.0,195.0C714.7,198.3 716.2,204.7 718.0,209.0Z" fill="#a93548" stroke="#f0983c" stroke-width="1.4" stroke-opacity="0.9"/>
<path d="M479.5,346.0C479.5,345.2 480.2,344.3 481.0,344.3C481.8,344.3 482.8,345.2 482.8,346.0C482.8,346.8 481.8,347.7 481.0,347.7C480.2,347.7 479.5,346.8 479.5,346.0Z" fill="#8fb0b0"/>
<text class="cty" x="212.5" y="153.2" text-anchor="middle" textLength="26.5" lengthAdjust="spacingAndGlyphs">石渠县</text>
<text class="cty" x="403.8" y="172.4" text-anchor="middle" textLength="26.5" lengthAdjust="spacingAndGlyphs">阿坝县</text>
<text class="cty" x="467.5" y="127.5" text-anchor="middle" textLength="35.4" lengthAdjust="spacingAndGlyphs">若尔盖县</text>
<text class="cty" x="519.5" y="149.9" text-anchor="middle" textLength="35.4" lengthAdjust="spacingAndGlyphs">九寨沟县</text>
<text class="cty" x="443.8" y="196.2" text-anchor="middle" textLength="26.5" lengthAdjust="spacingAndGlyphs">红原县</text>
<text class="cty" x="487.5" y="193.2" text-anchor="middle" textLength="26.5" lengthAdjust="spacingAndGlyphs">松潘县</text>
<text class="cty" x="543.8" y="199.9" text-anchor="middle" textLength="26.5" lengthAdjust="spacingAndGlyphs">平武县</text>
<text class="cty" x="466.2" y="218.2" text-anchor="middle" textLength="26.5" lengthAdjust="spacingAndGlyphs">黑水县</text>
<text class="cty" x="318.8" y="209.9" text-anchor="middle" textLength="26.5" lengthAdjust="spacingAndGlyphs">色达县</text>
<text class="cty" x="252.5" y="229.2" text-anchor="middle" textLength="26.5" lengthAdjust="spacingAndGlyphs">德格县</text>
<text class="cty" x="291.2" y="224.4" text-anchor="middle" textLength="26.5" lengthAdjust="spacingAndGlyphs">甘孜县</text>
<text class="cty" x="363.8" y="228.2" text-anchor="middle" textLength="26.5" lengthAdjust="spacingAndGlyphs">壤塘县</text>
<text class="cty" x="415.8" y="232.4" text-anchor="middle" textLength="35.4" lengthAdjust="spacingAndGlyphs">马尔康市</text>
<text class="cty" x="492.5" y="244.4" text-anchor="middle" textLength="17.7" lengthAdjust="spacingAndGlyphs">茂县</text>
<text class="cty" x="468.0" y="259.9" text-anchor="middle" textLength="17.7" lengthAdjust="spacingAndGlyphs">理县</text>
<text class="cty" x="402.5" y="262.4" text-anchor="middle" textLength="26.5" lengthAdjust="spacingAndGlyphs">金川县</text>
<text class="cty" x="345.0" y="267.4" text-anchor="middle" textLength="26.5" lengthAdjust="spacingAndGlyphs">炉霍县</text>
<text class="cty" x="581.2" y="198.7" text-anchor="middle" textLength="26.5" lengthAdjust="spacingAndGlyphs">青川县</text>
<text class="cty" x="626.2" y="190.7" text-anchor="middle" textLength="26.5" lengthAdjust="spacingAndGlyphs">朝天区</text>
<text class="cty" x="626.2" y="203.2" text-anchor="middle" textLength="26.5" lengthAdjust="spacingAndGlyphs">利州区</text>
<text class="cty" x="678.8" y="213.2" text-anchor="middle" textLength="26.5" lengthAdjust="spacingAndGlyphs">南江县</text>
<text class="cty" x="701.2" y="226.7" text-anchor="middle" textLength="26.5" lengthAdjust="spacingAndGlyphs">通江县</text>
<text class="cty" x="732.5" y="234.2" text-anchor="middle" textLength="26.5" lengthAdjust="spacingAndGlyphs">万源市</text>
<text class="cty" x="622.5" y="224.4" text-anchor="middle" textLength="26.5" lengthAdjust="spacingAndGlyphs">昭化区</text>
<text class="cty" x="571.2" y="237.4" text-anchor="middle" textLength="26.5" lengthAdjust="spacingAndGlyphs">江油市</text>
<text class="cty" x="598.8" y="237.4" text-anchor="middle" textLength="26.5" lengthAdjust="spacingAndGlyphs">剑阁县</text>
<text class="cty" x="633.8" y="240.7" text-anchor="middle" textLength="26.5" lengthAdjust="spacingAndGlyphs">苍溪县</text>
<text class="cty" x="671.2" y="247.4" text-anchor="middle" textLength="26.5" lengthAdjust="spacingAndGlyphs">巴州区</text>
<text class="cty" x="585.0" y="253.7" text-anchor="middle" textLength="26.5" lengthAdjust="spacingAndGlyphs">梓潼县</text>
<text class="cty" x="626.2" y="258.7" text-anchor="middle" textLength="26.5" lengthAdjust="spacingAndGlyphs">阆中市</text>
<text class="cty" x="690.0" y="259.9" text-anchor="middle" textLength="26.5" lengthAdjust="spacingAndGlyphs">平昌县</text>
<text class="cty" x="661.2" y="269.9" text-anchor="middle" textLength="26.5" lengthAdjust="spacingAndGlyphs">仪陇县</text>
<text class="cty" x="530.0" y="269.9" text-anchor="middle" textLength="26.5" lengthAdjust="spacingAndGlyphs">绵竹市</text>
<text class="cty" x="557.5" y="269.9" text-anchor="middle" textLength="26.5" lengthAdjust="spacingAndGlyphs">涪城区</text>
<text class="cty" x="705.0" y="274.9" text-anchor="middle" textLength="26.5" lengthAdjust="spacingAndGlyphs">通川区</text>
<text class="cty" x="481.2" y="281.7" text-anchor="middle" textLength="26.5" lengthAdjust="spacingAndGlyphs">汶川县</text>
<text class="cty" x="543.8" y="284.9" text-anchor="middle" textLength="26.5" lengthAdjust="spacingAndGlyphs">旌阳区</text>
<text class="cty" x="600.0" y="282.9" text-anchor="middle" textLength="26.5" lengthAdjust="spacingAndGlyphs">盐亭县</text>
<text class="cty" x="698.8" y="289.9" text-anchor="middle" textLength="26.5" lengthAdjust="spacingAndGlyphs">达川区</text>
<text class="cty" x="506.2" y="293.7" text-anchor="middle" textLength="35.4" lengthAdjust="spacingAndGlyphs">都江堰市</text>
<text class="cty" x="647.5" y="296.9" text-anchor="middle" textLength="26.5" lengthAdjust="spacingAndGlyphs">蓬安县</text>
<text class="cty" x="675.0" y="299.4" text-anchor="middle" textLength="17.7" lengthAdjust="spacingAndGlyphs">渠县</text>
<text class="cty" x="561.2" y="303.7" text-anchor="middle" textLength="26.5" lengthAdjust="spacingAndGlyphs">中江县</text>
<text class="cty" x="596.2" y="303.7" text-anchor="middle" textLength="26.5" lengthAdjust="spacingAndGlyphs">射洪市</text>
<text class="cty" x="501.2" y="317.4" text-anchor="middle" textLength="26.5" lengthAdjust="spacingAndGlyphs">崇州市</text>
<text class="cty" x="530.0" y="317.4" text-anchor="middle" textLength="26.5" lengthAdjust="spacingAndGlyphs">成华区</text>
<text class="cty" x="555.0" y="315.7" text-anchor="middle" textLength="26.5" lengthAdjust="spacingAndGlyphs">金堂县</text>
<text class="cty" x="625.0" y="317.4" text-anchor="middle" textLength="26.5" lengthAdjust="spacingAndGlyphs">嘉陵区</text>
<text class="cty" x="691.5" y="318.7" text-anchor="middle" textLength="26.5" lengthAdjust="spacingAndGlyphs">大竹县</text>
<text class="cty" x="588.0" y="323.7" text-anchor="middle" textLength="26.5" lengthAdjust="spacingAndGlyphs">大英县</text>
<text class="cty" x="663.8" y="323.2" text-anchor="middle" textLength="26.5" lengthAdjust="spacingAndGlyphs">广安区</text>
<text class="cty" x="451.2" y="326.2" text-anchor="middle" textLength="26.5" lengthAdjust="spacingAndGlyphs">宝兴县</text>
<text class="cty" x="511.2" y="333.7" text-anchor="middle" textLength="26.5" lengthAdjust="spacingAndGlyphs">新津区</text>
<text class="cty" x="545.0" y="334.9" text-anchor="middle" textLength="35.4" lengthAdjust="spacingAndGlyphs">东部新区</text>
<text class="cty" x="595.5" y="336.9" text-anchor="middle" textLength="26.5" lengthAdjust="spacingAndGlyphs">安居区</text>
<text class="cty" x="640.0" y="337.4" text-anchor="middle" textLength="26.5" lengthAdjust="spacingAndGlyphs">武胜县</text>
<text class="cty" x="668.8" y="341.2" text-anchor="middle" textLength="26.5" lengthAdjust="spacingAndGlyphs">华蓥市</text>
<text class="cty" x="496.2" y="346.7" text-anchor="middle" textLength="26.5" lengthAdjust="spacingAndGlyphs">蒲江县</text>
<text class="cty" x="448.8" y="354.9" text-anchor="middle" textLength="26.5" lengthAdjust="spacingAndGlyphs">天全县</text>
<text class="cty" x="488.8" y="360.7" text-anchor="middle" textLength="26.5" lengthAdjust="spacingAndGlyphs">丹棱县</text>
<text class="cty" x="533.8" y="361.2" text-anchor="middle" textLength="26.5" lengthAdjust="spacingAndGlyphs">仁寿县</text>
<text class="cty" x="562.5" y="356.2" text-anchor="middle" textLength="26.5" lengthAdjust="spacingAndGlyphs">雁江区</text>
<text class="cty" x="593.0" y="361.2" text-anchor="middle" textLength="26.5" lengthAdjust="spacingAndGlyphs">安岳县</text>
<text class="cty" x="452.5" y="379.4" text-anchor="middle" textLength="26.5" lengthAdjust="spacingAndGlyphs">荥经县</text>
<text class="cty" x="498.8" y="374.9" text-anchor="middle" textLength="26.5" lengthAdjust="spacingAndGlyphs">夹江县</text>
<text class="cty" x="527.5" y="382.4" text-anchor="middle" textLength="26.5" lengthAdjust="spacingAndGlyphs">井研县</text>
<text class="cty" x="555.0" y="387.4" text-anchor="middle" textLength="26.5" lengthAdjust="spacingAndGlyphs">威远县</text>
<text class="cty" x="584.0" y="384.4" text-anchor="middle" textLength="26.5" lengthAdjust="spacingAndGlyphs">东兴区</text>
<text class="cty" x="494.5" y="392.9" text-anchor="middle" textLength="35.4" lengthAdjust="spacingAndGlyphs">峨眉山市</text>
<text class="cty" x="587.0" y="401.7" text-anchor="middle" textLength="26.5" lengthAdjust="spacingAndGlyphs">隆昌市</text>
<text class="cty" x="477.5" y="409.2" text-anchor="middle" textLength="35.4" lengthAdjust="spacingAndGlyphs">金口河区</text>
<text class="cty" x="517.5" y="409.4" text-anchor="middle" textLength="26.5" lengthAdjust="spacingAndGlyphs">犍为县</text>
<text class="cty" x="553.8" y="406.7" text-anchor="middle" textLength="26.5" lengthAdjust="spacingAndGlyphs">贡井区</text>
<text class="cty" x="492.5" y="423.7" text-anchor="middle" textLength="61.9" lengthAdjust="spacingAndGlyphs">峨边彝族自治县</text>
<text class="cty" x="602.5" y="428.2" text-anchor="middle" textLength="35.4" lengthAdjust="spacingAndGlyphs">龙马潭区</text>
<text class="cty" x="513.8" y="441.2" text-anchor="middle" textLength="61.9" lengthAdjust="spacingAndGlyphs">马边彝族自治县</text>
<text class="cty" x="580.0" y="444.9" text-anchor="middle" textLength="26.5" lengthAdjust="spacingAndGlyphs">江安县</text>
<text class="cty" x="622.0" y="441.2" text-anchor="middle" textLength="26.5" lengthAdjust="spacingAndGlyphs">合江县</text>
<text class="cty" x="472.0" y="461.7" text-anchor="middle" textLength="26.5" lengthAdjust="spacingAndGlyphs">美姑县</text>
<text class="cty" x="546.2" y="458.2" text-anchor="middle" textLength="17.7" lengthAdjust="spacingAndGlyphs">高县</text>
<text class="cty" x="446.2" y="474.9" text-anchor="middle" textLength="26.5" lengthAdjust="spacingAndGlyphs">喜德县</text>
<text class="cty" x="487.5" y="474.9" text-anchor="middle" textLength="26.5" lengthAdjust="spacingAndGlyphs">雷波县</text>
<text class="cty" x="557.5" y="476.2" text-anchor="middle" textLength="17.7" lengthAdjust="spacingAndGlyphs">珙县</text>
<text class="cty" x="596.2" y="483.2" text-anchor="middle" textLength="26.5" lengthAdjust="spacingAndGlyphs">叙永县</text>
<text class="cty" x="625.5" y="488.7" text-anchor="middle" textLength="26.5" lengthAdjust="spacingAndGlyphs">古蔺县</text>
<text class="cty" x="460.5" y="515.0" text-anchor="middle" textLength="26.5" lengthAdjust="spacingAndGlyphs">布拖县</text>
<text class="cty" x="452.8" y="548.2" text-anchor="middle" textLength="26.5" lengthAdjust="spacingAndGlyphs">宁南县</text>
<text class="cty" x="450.5" y="581.2" text-anchor="middle" textLength="26.5" lengthAdjust="spacingAndGlyphs">会东县</text>
<text class="cty" x="271.2" y="296.7" text-anchor="middle" textLength="26.5" lengthAdjust="spacingAndGlyphs">白玉县</text>
<text class="cty" x="323.8" y="294.9" text-anchor="middle" textLength="26.5" lengthAdjust="spacingAndGlyphs">新龙县</text>
<text class="cty" x="363.0" y="299.4" text-anchor="middle" textLength="26.5" lengthAdjust="spacingAndGlyphs">道孚县</text>
<text class="cty" x="407.0" y="304.2" text-anchor="middle" textLength="26.5" lengthAdjust="spacingAndGlyphs">丹巴县</text>
<text class="cty" x="445.5" y="287.9" text-anchor="middle" textLength="26.5" lengthAdjust="spacingAndGlyphs">小金县</text>
<text class="cty" x="270.0" y="371.2" text-anchor="middle" textLength="26.5" lengthAdjust="spacingAndGlyphs">巴塘县</text>
<text class="cty" x="311.8" y="371.7" text-anchor="middle" textLength="26.5" lengthAdjust="spacingAndGlyphs">理塘县</text>
<text class="cty" x="360.0" y="374.2" text-anchor="middle" textLength="26.5" lengthAdjust="spacingAndGlyphs">雅江县</text>
<text class="cty" x="400.0" y="363.7" text-anchor="middle" textLength="26.5" lengthAdjust="spacingAndGlyphs">康定市</text>
<text class="cty" x="421.2" y="374.9" text-anchor="middle" textLength="26.5" lengthAdjust="spacingAndGlyphs">泸定县</text>
<text class="cty" x="430.0" y="412.4" text-anchor="middle" textLength="26.5" lengthAdjust="spacingAndGlyphs">石棉县</text>
<text class="cty" x="295.0" y="417.4" text-anchor="middle" textLength="26.5" lengthAdjust="spacingAndGlyphs">乡城县</text>
<text class="cty" x="324.5" y="434.9" text-anchor="middle" textLength="26.5" lengthAdjust="spacingAndGlyphs">稻城县</text>
<text class="cty" x="391.2" y="435.7" text-anchor="middle" textLength="26.5" lengthAdjust="spacingAndGlyphs">九龙县</text>
<text class="cty" x="272.5" y="443.7" text-anchor="middle" textLength="26.5" lengthAdjust="spacingAndGlyphs">得荣县</text>
<text class="cty" x="417.5" y="452.4" text-anchor="middle" textLength="26.5" lengthAdjust="spacingAndGlyphs">冕宁县</text>
<text class="cty" x="424.5" y="498.2" text-anchor="middle" textLength="26.5" lengthAdjust="spacingAndGlyphs">西昌市</text>
<text class="cty" x="394.2" y="507.9" text-anchor="middle" textLength="26.5" lengthAdjust="spacingAndGlyphs">盐源县</text>
<text class="cty" x="425.0" y="530.7" text-anchor="middle" textLength="26.5" lengthAdjust="spacingAndGlyphs">德昌县</text>
<text class="cty" x="413.8" y="555.5" text-anchor="middle" textLength="26.5" lengthAdjust="spacingAndGlyphs">米易县</text>
<text class="cty" x="395.0" y="578.7" text-anchor="middle" textLength="17.7" lengthAdjust="spacingAndGlyphs">东区</text>
<text class="cty" x="423.8" y="576.7" text-anchor="middle" textLength="26.5" lengthAdjust="spacingAndGlyphs">会理县</text>
<text class="cty" x="403.8" y="593.7" text-anchor="middle" textLength="26.5" lengthAdjust="spacingAndGlyphs">仁和区</text>
<text class="ctr" x="0" y="4.3" text-anchor="middle" transform="translate(183.8 101.2) scale(0.84 1) rotate(-47.1)">-19.0</text>
<text class="ctr" x="0" y="4.3" text-anchor="middle" transform="translate(337.5 201.2) scale(0.84 1) rotate(57.7)">28.8</text>
<text class="ctr" x="0" y="4.3" text-anchor="middle" transform="translate(332.5 225.0) scale(0.84 1) rotate(21.4)">57.5</text>
<text class="ctr" x="0" y="4.3" text-anchor="middle" transform="translate(342.0 249.5) scale(0.84 1) rotate(37.1)">86.3</text>
<text class="ctr" x="0" y="4.3" text-anchor="middle" transform="translate(533.8 216.2) scale(0.84 1) rotate(61.0)">0.0</text>
<text class="ctr" x="0" y="4.3" text-anchor="middle" transform="translate(543.8 241.2) scale(0.84 1) rotate(-50.2)">-19.0</text>
<text class="ctr" x="0" y="4.3" text-anchor="middle" transform="translate(663.8 250.0) scale(0.84 1) rotate(-57.7)">-38.0</text>
<text class="ctr" x="0" y="4.3" text-anchor="middle" transform="translate(293.8 361.2) scale(0.84 1) rotate(10.1)">0.0</text>
<text class="ctr" x="0" y="4.3" text-anchor="middle" transform="translate(276.2 377.5) scale(0.84 1) rotate(8.4)">-19.0</text>
<text class="ctr" x="0" y="4.3" text-anchor="middle" transform="translate(577.0 429.5) scale(0.84 1) rotate(47.1)">0.0</text>
<text class="ctr" x="0" y="4.3" text-anchor="middle" transform="translate(540.0 472.5) scale(0.84 1) rotate(72.3)">86.3</text>
<text class="ctr" x="0" y="4.3" text-anchor="middle" transform="translate(506.5 301.0) scale(0.84 1) rotate(84.1)">8</text>
<text class="ctr" x="0" y="4.3" text-anchor="middle" transform="translate(526.5 444.0) scale(0.84 1) rotate(78.1)">5</text>
</g>
<path d="M181.2,82.5 L190.0,83.8 L202.5,87.5 L210.0,91.2 L212.5,100.0 L216.2,107.5 L222.5,116.2 L226.2,128.8 L230.0,140.0 L232.5,146.2 L240.0,152.5 L250.0,156.2 L255.0,165.0 L262.5,168.8 L272.5,170.0 L280.0,173.8 L282.5,165.0 L288.8,158.8 L293.8,163.8 L300.0,170.0 L302.5,180.0 L310.0,178.8 L317.5,180.0 L325.0,187.5 L330.0,190.0 L335.0,185.0 L342.5,185.0 L350.0,182.5 L357.5,177.5 L360.0,170.0 L355.0,162.5 L356.2,152.5 L358.8,145.0 L365.0,143.8 L370.0,147.5 L377.5,150.0 L382.5,151.2 L387.5,145.0 L385.0,137.5 L386.2,128.8 L392.5,122.5 L396.2,126.2 L397.5,135.0 L392.5,142.5 L392.5,150.0 L396.2,151.2 L402.5,147.5 L410.0,142.5 L417.5,136.2 L425.0,130.0 L425.0,122.5 L418.8,115.0 L415.0,107.5 L412.5,97.5 L420.0,95.0 L430.0,91.2 L438.8,83.8 L448.8,77.5 L455.0,80.0 L460.0,87.5 L463.8,95.0 L465.0,105.0 L472.5,111.2 L481.2,108.8 L487.5,115.0 L500.0,117.5 L512.5,117.5 L517.5,122.5 L520.0,132.5 L525.0,138.8 L531.2,140.0 L526.2,145.0 L527.5,152.5 L530.0,158.8 L525.0,165.0 L526.2,171.2 L535.0,176.2 L545.0,181.2 L553.8,183.8 L560.0,183.8 L567.5,187.5 L576.2,181.2 L583.8,177.5 L585.0,171.2 L583.8,166.2 L587.5,165.0 L590.0,171.2 L592.5,175.0 L600.0,176.2 L610.0,171.2 L618.8,170.0 L621.2,175.0 L628.8,180.0 L637.5,183.8 L647.5,180.0 L657.5,177.5 L670.0,177.5 L673.8,185.0 L676.2,192.5 L682.5,193.8 L687.5,190.0 L692.5,195.0 L700.0,200.0 L705.0,198.8 L711.2,205.0 L717.5,211.2 L722.5,213.8 L730.0,210.0 L738.8,207.5 L747.5,207.5 L748.8,212.5 L743.8,217.5 L745.0,222.5 L740.0,230.0 L747.5,236.2 L751.2,242.5 L746.2,247.5 L737.5,253.8 L730.0,260.0 L735.0,255.0 L730.0,262.5 L723.8,270.0 L725.0,277.5 L722.5,285.0 L715.0,292.5 L705.0,297.5 L697.5,301.2 L692.5,308.8 L692.5,316.2 L686.2,322.5 L683.8,330.0 L678.8,337.5 L676.2,343.8 L667.5,347.5 L660.0,346.2 L655.0,350.0 L651.2,340.0 L642.5,337.5 L632.5,338.8 L627.5,335.0 L620.0,330.0 L612.5,327.5 L605.0,326.2 L601.2,330.0 L598.8,336.2 L592.5,341.2 L595.0,347.5 L600.0,352.5 L598.8,360.0 L592.5,367.5 L585.0,372.5 L580.0,380.0 L581.2,386.2 L587.5,391.2 L596.2,396.2 L598.8,402.5 L601.2,410.0 L602.5,410.0 L612.5,420.0 L625.0,421.2 L628.8,428.8 L631.2,440.0 L635.0,447.5 L628.8,445.0 L623.8,437.5 L615.0,435.0 L607.5,440.0 L600.0,445.0 L595.0,448.8 L596.2,456.2 L602.5,460.0 L607.5,462.5 L610.0,470.0 L617.5,471.2 L623.8,468.8 L628.8,472.5 L632.5,478.8 L631.2,485.0 L633.8,491.2 L626.2,496.2 L615.0,497.5 L605.0,498.8 L597.5,501.2 L590.0,496.2 L583.8,495.0 L577.5,497.5 L575.0,490.0 L575.0,482.5 L570.0,475.0 L565.0,472.5 L560.0,477.5 L552.5,485.0 L543.8,488.8 L536.2,486.2 L530.0,481.2 L525.0,477.5 L528.8,472.5 L533.8,465.0 L527.5,458.8 L522.5,452.5 L521.2,446.2 L526.2,442.5 L522.5,440.0 L512.5,440.0 L505.0,441.2 L500.0,443.8 L501.2,452.5 L500.0,461.2 L492.5,466.2 L486.2,468.8 L481.2,472.5 L483.8,481.2 L481.2,490.0 L476.2,497.5 L470.0,505.0 L467.5,510.0 L462.5,517.5 L455.0,520.0 L449.0,527.5 L446.8,536.2 L450.0,547.5 L453.5,560.0 L456.0,572.5 L455.0,580.7 L451.2,587.8 L456.2,575.0 L452.5,586.4 L442.5,589.2 L436.2,594.3 L428.8,587.8 L420.0,593.0 L412.5,596.8 L405.0,604.3 L398.8,601.8 L392.5,604.3 L387.5,596.8 L380.0,593.0 L382.5,586.4 L377.5,577.8 L370.0,573.8 L371.2,567.5 L373.8,560.0 L370.0,555.0 L365.0,546.2 L357.5,540.0 L356.2,532.5 L350.0,527.5 L347.5,520.0 L342.5,510.0 L337.5,500.0 L333.8,490.0 L330.0,486.2 L320.0,490.0 L312.5,496.2 L307.5,485.0 L300.0,477.5 L296.2,467.5 L302.5,462.5 L300.0,455.0 L292.5,445.0 L286.2,437.5 L280.0,430.0 L281.0,427.0 L277.0,428.5 L273.8,430.0 L270.0,440.0 L266.2,447.5 L263.8,457.5 L262.5,470.0 L257.5,462.5 L252.5,452.5 L250.0,440.0 L247.5,430.0 L247.5,425.0 L248.8,412.5 L246.2,402.5 L246.2,391.2 L243.8,380.0 L241.2,371.2 L243.8,362.5 L246.2,353.8 L243.8,347.5 L242.5,335.0 L241.2,323.8 L237.5,315.0 L238.8,307.5 L237.5,300.0 L231.2,293.8 L230.0,285.0 L223.8,280.0 L220.0,272.5 L222.5,266.2 L227.5,262.5 L230.0,255.0 L232.5,255.0 L225.0,247.5 L217.5,240.0 L213.8,232.5 L212.5,225.0 L207.5,217.5 L202.5,210.0 L201.2,200.0 L195.0,195.0 L186.2,192.5 L180.0,190.0 L172.5,185.0 L163.8,180.0 L157.5,172.5 L153.8,166.2 L155.0,162.5 L160.0,155.0 L162.5,147.5 L167.5,142.5 L172.5,137.5 L172.5,132.5 L167.5,123.8 L162.5,120.0 L158.8,112.5 L155.0,107.5 L156.2,103.8 L162.5,102.5 L171.2,98.8 L172.5,91.2 L176.2,85.0Z" fill="none" stroke="#7f8790" stroke-width="1.4" stroke-linejoin="round"/>
<g clip-path="url(#cr)"><rect x="930" y="60" width="640" height="560" fill="#a9f1f4"/>
<path d="M985.0,212.0C986.3,209.5 989.6,208.6 992.0,207.0C993.0,206.3 994.1,205.7 995.0,205.0C999.4,201.6 1003.3,197.5 1007.5,193.8C1011.7,190.0 1015.7,186.1 1020.0,182.5C1024.1,179.0 1028.2,175.7 1032.5,172.5C1036.6,169.5 1041.4,167.3 1045.0,163.8C1049.0,159.8 1050.3,153.1 1055.0,150.0C1067.9,141.6 1084.7,140.7 1100.0,140.0C1113.4,139.4 1129.2,137.0 1140.0,145.0C1144.1,148.0 1142.1,155.8 1146.2,158.8C1150.0,161.4 1155.4,159.5 1160.0,160.0C1166.7,160.7 1173.3,161.9 1180.0,162.5C1186.7,163.1 1193.4,163.0 1200.0,163.8C1205.0,164.3 1210.3,164.3 1215.0,166.2C1218.3,167.6 1221.7,169.5 1223.8,172.5C1225.7,175.3 1226.2,179.1 1226.2,182.5C1226.4,186.7 1225.1,191.0 1223.8,195.0C1222.5,198.5 1220.0,201.5 1218.8,205.0C1217.3,209.0 1216.4,213.2 1216.0,217.5C1215.7,221.0 1216.1,224.5 1216.5,228.0C1217.0,232.0 1218.0,236.0 1218.8,240.0C1219.6,244.2 1220.3,248.4 1221.2,252.5C1222.0,255.9 1222.8,259.2 1223.8,262.5C1224.9,266.3 1226.1,270.1 1227.5,273.8C1229.0,277.6 1230.6,281.4 1232.5,285.0C1234.3,288.5 1236.2,292.0 1238.8,295.0C1240.5,297.1 1242.6,299.0 1245.0,300.5C1246.5,301.4 1248.3,302.1 1250.0,302.5C1252.8,303.2 1255.8,303.5 1258.8,303.4C1261.9,303.3 1265.0,302.4 1268.1,301.9C1270.8,301.5 1273.5,300.3 1276.2,300.6C1278.0,300.8 1279.7,301.6 1281.2,302.5C1282.9,303.5 1284.4,304.8 1285.6,306.2C1287.0,307.9 1288.0,309.9 1288.8,311.9C1289.4,313.7 1289.2,315.8 1290.0,317.5C1290.6,318.7 1291.2,320.2 1292.5,320.6C1294.1,321.2 1295.9,320.0 1297.5,319.4C1300.2,318.3 1302.7,316.8 1305.0,315.0C1308.7,312.1 1312.0,308.6 1315.0,305.0C1317.9,301.5 1319.8,297.3 1322.5,293.8C1324.8,290.7 1327.3,287.7 1330.0,285.0C1333.1,281.9 1336.4,278.9 1340.0,276.2C1343.2,273.9 1346.4,271.5 1350.0,270.0C1353.2,268.7 1356.6,268.0 1360.0,267.5C1363.3,267.0 1366.7,266.7 1370.0,266.9C1373.4,267.1 1376.7,267.8 1380.0,268.8C1383.4,269.7 1386.7,271.2 1390.0,272.5C1393.3,273.8 1396.5,275.5 1400.0,276.2C1403.3,277.0 1406.7,277.1 1410.0,276.9C1413.4,276.7 1416.7,275.6 1420.0,275.0C1423.3,274.4 1426.6,273.0 1430.0,273.1C1432.6,273.2 1435.5,273.4 1437.5,275.0C1439.0,276.2 1439.9,278.1 1440.0,280.0C1440.2,282.6 1438.8,285.2 1437.5,287.5C1435.6,290.8 1432.7,293.6 1430.0,296.2C1427.7,298.5 1425.0,300.4 1422.5,302.5C1420.0,304.6 1417.5,306.7 1415.0,308.8C1412.5,310.8 1409.8,312.7 1407.5,315.0C1405.6,316.9 1403.8,318.9 1402.5,321.2C1401.7,322.7 1400.7,324.4 1401.0,326.0C1402.3,333.8 1412.0,337.7 1415.0,345.0C1419.5,355.9 1422.7,368.5 1420.0,380.0C1418.0,388.6 1412.2,396.8 1405.0,402.0C1401.1,404.8 1395.8,406.7 1391.0,406.0C1389.6,405.8 1388.8,404.2 1387.5,403.8C1384.3,402.6 1380.8,403.1 1377.5,402.5C1374.1,401.9 1370.8,401.0 1367.5,400.0C1364.1,398.9 1360.9,397.3 1357.5,396.2C1354.2,395.2 1350.9,394.3 1347.5,393.8C1344.2,393.2 1340.8,392.8 1337.5,393.1C1334.9,393.3 1332.1,393.6 1330.0,395.0C1328.3,396.2 1327.0,398.0 1326.2,400.0C1325.1,403.1 1325.3,406.7 1325.5,410.0C1325.7,413.4 1326.7,416.7 1327.5,420.0C1328.2,422.9 1329.1,425.9 1330.0,428.8C1330.8,431.3 1333.0,433.7 1332.5,436.2C1332.0,438.9 1329.4,440.6 1327.5,442.5C1325.6,444.4 1322.7,445.3 1321.2,447.5C1320.3,448.9 1319.4,450.9 1320.0,452.5C1320.7,454.5 1323.1,455.4 1325.0,456.2C1328.1,457.7 1331.6,458.3 1335.0,458.8C1338.3,459.2 1341.9,460.0 1345.0,458.8C1347.2,457.8 1348.9,455.8 1350.0,453.8C1351.6,450.8 1351.4,447.1 1351.9,443.8C1352.4,440.8 1351.9,437.7 1353.1,435.0C1354.0,433.0 1355.3,430.5 1357.5,430.0C1359.2,429.6 1361.2,430.7 1362.5,431.9C1364.7,433.9 1365.6,437.1 1366.2,440.0C1367.0,443.3 1366.9,446.7 1366.2,450.0C1365.6,453.1 1363.5,455.7 1362.5,458.8C1361.6,461.6 1361.0,464.5 1360.6,467.5C1360.2,470.0 1360.5,472.5 1360.0,475.0C1358.3,482.9 1358.6,493.3 1352.0,498.0C1341.1,505.7 1322.8,505.8 1312.0,498.0C1299.8,489.1 1293.9,469.5 1298.0,455.0C1299.7,449.1 1311.0,449.1 1312.0,443.0C1312.3,441.1 1309.8,439.8 1309.0,438.0C1307.8,435.4 1306.5,432.8 1306.0,430.0C1305.4,426.7 1305.5,423.3 1306.0,420.0C1306.5,416.6 1307.9,413.3 1309.0,410.0C1310.1,406.6 1312.1,403.5 1312.5,400.0C1312.9,396.7 1311.8,393.3 1311.2,390.0C1310.6,386.2 1310.2,382.3 1308.8,378.8C1307.3,375.1 1304.9,371.8 1302.5,368.8C1300.3,366.0 1297.9,363.3 1295.0,361.2C1292.7,359.6 1290.1,358.5 1287.5,357.5C1284.3,356.3 1280.6,356.5 1277.5,355.0C1275.0,353.8 1272.4,352.4 1271.0,350.0C1269.8,348.0 1269.6,345.3 1270.0,343.0C1270.4,340.8 1272.7,339.2 1273.0,337.0C1273.3,334.4 1272.8,331.5 1271.2,329.4C1269.8,327.4 1267.2,326.7 1265.0,325.6C1263.0,324.6 1261.0,323.2 1258.8,323.1C1256.6,323.0 1254.4,324.0 1252.5,325.0C1250.6,325.9 1249.1,327.4 1247.5,328.8C1245.8,330.1 1244.2,331.7 1242.5,333.0C1239.3,335.5 1235.6,337.4 1232.5,340.0C1228.9,343.0 1225.8,346.7 1222.5,350.0C1219.2,353.3 1216.4,357.4 1212.5,360.0C1208.8,362.5 1204.4,364.3 1200.0,365.0C1195.0,365.7 1189.9,364.6 1185.0,363.8C1179.9,362.9 1175.0,361.2 1170.0,360.0C1165.0,358.8 1160.0,357.3 1155.0,356.2C1150.0,355.2 1145.0,354.4 1140.0,353.8C1135.0,353.1 1130.0,352.3 1125.0,352.5C1119.9,352.7 1115.0,354.4 1110.0,355.0C1105.0,355.6 1099.9,357.2 1095.0,356.2C1090.4,355.4 1086.3,352.7 1082.5,350.0C1077.7,346.6 1074.2,341.7 1070.0,337.5C1065.8,333.3 1061.7,329.2 1057.5,325.0C1053.3,320.8 1048.6,317.1 1045.0,312.5C1042.0,308.7 1039.7,304.4 1037.5,300.0C1035.5,296.0 1034.5,291.5 1032.5,287.5C1030.3,283.1 1028.2,278.6 1025.0,275.0C1021.8,271.4 1017.8,268.7 1013.8,266.2C1009.4,263.6 1003.9,263.2 1000.0,260.0C993.5,254.8 987.6,247.9 985.0,240.0C982.0,231.1 980.7,220.3 985.0,212.0Z" fill="#86d0f7" stroke="#b5b77c" stroke-width="1.4" stroke-opacity="0.9"/>
<path d="M1216.0,548.0C1216.0,544.5 1215.8,540.6 1217.5,537.5C1219.1,534.7 1222.1,532.6 1225.0,531.2C1228.8,529.5 1233.3,529.5 1237.5,529.0C1245.6,527.9 1256.0,521.4 1262.0,527.0C1280.4,543.9 1279.7,584.3 1262.0,602.0C1253.5,610.5 1235.1,609.8 1226.0,602.0C1220.4,597.2 1224.0,587.3 1222.5,580.0C1221.5,575.0 1219.8,570.0 1218.8,565.0C1217.6,559.4 1216.1,553.7 1216.0,548.0Z" fill="#86d0f7" stroke="#b5b77c" stroke-width="1.4" stroke-opacity="0.9"/>
<path d="M1283.8,443.8 L1288.8,447.5 L1290.0,457.5 L1283.8,463.8 L1282.5,455.0Z" fill="#86d0f7"/>
<path d="M1043.8,227.5C1044.2,223.8 1045.2,219.9 1047.5,217.0C1050.3,213.4 1054.7,211.4 1058.8,209.5C1063.9,207.2 1069.4,205.4 1075.0,205.0C1081.7,204.5 1088.4,206.1 1095.0,207.5C1101.8,208.9 1108.4,211.1 1115.0,213.5C1119.3,215.0 1123.2,217.2 1127.5,218.8C1131.6,220.2 1135.8,221.4 1140.0,222.5C1144.1,223.5 1148.3,224.4 1152.5,225.0C1156.6,225.6 1160.8,225.8 1165.0,226.2C1169.2,226.7 1173.4,226.5 1177.5,227.5C1181.0,228.3 1184.4,229.4 1187.5,231.2C1190.8,233.2 1193.7,235.9 1196.2,238.8C1198.7,241.4 1200.8,244.3 1202.5,247.5C1204.2,250.6 1205.4,254.0 1206.2,257.5C1207.1,260.8 1207.1,264.2 1207.5,267.5C1207.9,270.8 1208.1,274.2 1208.8,277.5C1209.4,280.9 1209.8,284.4 1211.2,287.5C1212.8,290.8 1215.0,293.7 1217.5,296.2C1220.4,299.2 1224.1,301.4 1227.5,303.8C1230.6,305.9 1234.4,307.3 1237.0,310.0C1239.2,312.2 1240.9,315.1 1242.0,318.0C1243.0,320.5 1243.9,323.3 1243.5,326.0C1243.2,327.8 1242.5,329.8 1241.0,331.0C1238.7,332.8 1235.4,332.8 1232.5,333.0C1228.3,333.2 1224.2,331.9 1220.0,331.5C1215.0,331.0 1210.0,331.2 1205.0,330.5C1200.8,329.9 1196.3,329.9 1192.5,328.0C1189.0,326.2 1186.4,323.1 1184.0,320.0C1181.7,317.0 1180.6,313.3 1178.8,310.0C1176.8,306.6 1174.4,303.4 1172.5,300.0C1170.7,296.7 1169.0,293.4 1167.5,290.0C1166.1,286.7 1165.0,283.3 1163.8,280.0C1162.5,276.7 1161.4,273.3 1160.0,270.0C1158.5,266.6 1157.0,263.1 1155.0,260.0C1153.2,257.3 1151.5,254.2 1148.8,252.5C1146.2,251.0 1143.0,250.6 1140.0,250.6C1136.6,250.6 1133.3,251.5 1130.0,252.5C1125.7,253.8 1121.5,255.5 1117.5,257.5C1113.1,259.7 1109.3,262.7 1105.0,265.0C1100.9,267.2 1096.9,269.7 1092.5,271.2C1088.9,272.5 1085.1,273.8 1081.2,273.8C1077.4,273.8 1073.5,272.9 1070.0,271.2C1066.2,269.5 1063.0,266.7 1060.0,263.8C1056.6,260.4 1053.8,256.5 1051.2,252.5C1048.8,248.6 1046.3,244.5 1045.0,240.0C1043.8,236.0 1043.2,231.7 1043.8,227.5Z" fill="#4f96e4" stroke="#9aa88a" stroke-width="1.4" stroke-opacity="0.9"/>
<path d="M1362.5,285.0C1365.5,284.5 1368.7,285.8 1371.2,287.5C1373.5,289.0 1375.2,291.3 1376.2,293.8C1377.4,296.5 1377.8,299.6 1377.5,302.5C1377.1,306.0 1375.3,309.3 1373.8,312.5C1372.0,316.0 1369.7,319.2 1367.5,322.5C1365.5,325.5 1363.8,328.7 1361.2,331.2C1358.7,333.8 1355.8,336.1 1352.5,337.5C1348.6,339.2 1344.2,339.4 1340.0,340.0C1335.0,340.7 1330.0,340.7 1325.0,341.2C1322.1,341.6 1318.3,344.6 1316.2,342.5C1314.8,341.0 1316.7,338.2 1317.5,336.2C1318.6,333.5 1320.6,331.1 1322.5,328.8C1324.7,326.0 1327.3,323.5 1330.0,321.2C1332.7,318.9 1336.1,317.4 1338.8,315.0C1341.1,312.8 1343.1,310.2 1345.0,307.5C1346.9,304.7 1348.3,301.7 1350.0,298.8C1351.7,295.8 1352.7,292.5 1355.0,290.0C1357.1,287.8 1359.5,285.5 1362.5,285.0Z" fill="#4f96e4" stroke="#8aa0b0" stroke-width="1.4" stroke-opacity="0.9"/>
<path d="M1356.2,357.5C1359.0,356.6 1362.2,357.8 1365.0,358.8C1367.3,359.6 1369.9,360.5 1371.2,362.5C1372.7,364.6 1372.9,367.5 1372.5,370.0C1372.1,372.8 1370.0,375.0 1368.8,377.5C1367.5,380.0 1367.1,383.1 1365.0,385.0C1363.3,386.5 1361.0,387.4 1358.8,387.5C1356.1,387.6 1353.2,386.7 1351.2,385.0C1349.1,383.2 1348.0,380.3 1347.5,377.5C1346.9,374.2 1347.7,370.7 1348.8,367.5C1349.5,365.2 1351.0,363.2 1352.5,361.2C1353.6,359.9 1354.6,358.1 1356.2,357.5Z" fill="#4f96e4" stroke="#8aa0b0" stroke-width="1.4" stroke-opacity="0.9"/>
<path d="M1311.2,415.0C1313.3,414.0 1315.7,416.2 1317.5,417.5C1320.1,419.4 1321.6,422.6 1323.8,425.0C1325.7,427.2 1328.3,428.9 1330.0,431.2C1331.4,433.1 1333.6,435.2 1333.1,437.5C1332.6,439.8 1329.4,440.4 1327.5,441.9C1325.4,443.5 1323.4,445.2 1321.2,446.9C1319.6,448.2 1317.6,449.1 1316.2,450.6C1314.8,452.2 1315.0,455.2 1313.1,456.2C1312.0,456.9 1310.3,457.1 1309.4,456.2C1305.5,453.0 1307.1,446.3 1306.9,441.2C1306.6,435.8 1307.1,430.3 1308.1,425.0C1308.8,421.6 1308.1,416.5 1311.2,415.0Z" fill="#4f96e4" stroke="#8aa0b0" stroke-width="1.4" stroke-opacity="0.9"/>
<path d="M1310.6,421.9C1312.3,420.7 1314.8,422.9 1316.2,424.4C1318.0,426.1 1319.8,428.8 1319.4,431.2C1319.1,433.0 1317.4,434.9 1315.6,435.0C1313.7,435.1 1312.1,433.0 1311.2,431.2C1309.8,428.4 1308.1,423.7 1310.6,421.9Z" fill="#2d70bd"/>
<path d="M1321.2,461.9C1324.1,460.8 1327.5,462.7 1330.0,464.4C1332.7,466.2 1334.3,469.3 1336.2,471.9C1338.2,474.5 1340.8,476.9 1341.5,480.0C1342.0,482.1 1342.0,484.7 1340.6,486.2C1338.2,489.0 1333.7,489.3 1330.0,489.4C1327.4,489.4 1324.7,488.9 1322.5,487.5C1318.0,484.6 1312.7,480.3 1312.5,475.0C1312.3,469.7 1316.3,463.7 1321.2,461.9Z" fill="#4f96e4" stroke="#8aa0b0" stroke-width="1.4" stroke-opacity="0.9"/>
<path d="M1314.4,473.8C1314.3,469.6 1317.2,464.2 1321.2,463.5C1323.4,463.1 1325.4,465.6 1326.5,467.5C1327.8,469.7 1328.2,472.5 1327.8,475.0C1327.3,477.6 1326.5,481.2 1324.0,481.9C1321.6,482.6 1319.4,479.8 1317.5,478.1C1316.2,476.9 1314.4,475.5 1314.4,473.8Z" fill="#2d70bd"/>
<path d="M1291.2,212.5C1294.7,211.6 1296.7,217.1 1298.8,220.0C1301.5,223.8 1304.4,227.9 1305.0,232.5C1305.5,236.3 1304.9,240.7 1302.5,243.8C1300.8,246.0 1297.7,248.1 1295.0,247.5C1291.8,246.8 1290.0,243.0 1288.8,240.0C1287.1,236.1 1287.2,231.7 1287.5,227.5C1287.9,222.4 1286.3,213.9 1291.2,212.5Z" fill="#86d0f7" stroke="#b5b77c" stroke-width="1.4" stroke-opacity="0.9"/>
<path d="M925.0,50.0C949.7,25.3 1008.1,22.7 1030.0,50.0C1045.8,69.6 1022.7,100.2 1013.8,123.8C1012.2,127.8 1009.5,131.2 1007.5,135.0C1004.9,139.9 1003.0,145.3 1000.0,150.0C997.1,154.5 994.0,159.0 990.0,162.5C985.6,166.3 980.2,168.6 975.0,171.2C969.3,174.1 963.4,176.5 957.5,178.8C946.8,182.9 934.3,196.6 925.0,190.0C887.0,162.9 892.0,83.0 925.0,50.0Z" fill="#fdfcc5" stroke="#b5b77c" stroke-width="1.4" stroke-opacity="0.9"/>
<path d="M1207.5,133.8C1210.1,137.6 1215.9,137.8 1220.0,140.0C1224.3,142.3 1228.4,145.0 1232.5,147.5C1235.9,149.6 1238.8,152.5 1242.5,153.8C1246.5,155.1 1250.8,155.0 1255.0,155.0C1260.0,155.0 1265.0,153.5 1270.0,153.8C1275.1,154.0 1280.2,154.5 1285.0,156.2C1290.4,158.2 1295.4,161.5 1300.0,165.0C1303.7,167.9 1307.1,171.3 1310.0,175.0C1313.0,178.8 1315.6,183.0 1317.5,187.5C1319.5,192.3 1320.5,197.4 1321.2,202.5C1321.9,207.0 1322.3,211.5 1322.0,216.0C1321.8,219.5 1320.9,222.9 1320.0,226.2C1319.2,229.6 1317.9,232.8 1316.9,236.0C1316.1,238.6 1314.9,241.1 1314.4,243.8C1313.9,246.2 1313.4,248.8 1313.8,251.2C1314.0,252.8 1314.4,254.5 1315.6,255.6C1317.1,256.9 1319.3,257.1 1321.2,257.5C1323.9,258.0 1326.7,258.0 1329.4,258.1C1332.5,258.3 1335.7,259.0 1338.8,258.4C1340.5,258.1 1342.2,257.2 1343.8,256.2C1346.0,254.9 1348.2,253.2 1350.0,251.2C1351.7,249.4 1352.7,246.9 1354.4,245.0C1355.7,243.6 1357.1,242.2 1358.8,241.2C1361.4,239.8 1364.5,239.4 1367.5,238.8C1370.4,238.1 1373.3,237.8 1376.2,237.5C1380.8,237.0 1385.4,235.9 1390.0,236.2C1395.1,236.6 1400.0,238.8 1405.0,240.0C1410.0,241.2 1415.1,242.2 1420.0,243.8C1423.4,244.8 1426.5,246.6 1430.0,247.5C1433.3,248.3 1436.7,248.0 1440.0,248.8C1442.6,249.3 1445.2,250.0 1447.5,251.2C1450.3,252.8 1452.6,255.3 1455.0,257.5C1457.6,259.9 1460.3,262.3 1462.5,265.0C1464.4,267.3 1466.0,269.9 1467.5,272.5C1468.9,274.9 1470.0,277.5 1471.2,280.0C1472.5,282.5 1473.9,284.9 1475.0,287.5C1476.0,289.9 1477.1,292.4 1477.5,295.0C1477.8,296.6 1478.1,298.4 1477.5,300.0C1476.9,301.7 1474.1,302.2 1474.0,304.0C1473.2,314.1 1480.5,326.3 1490.0,330.0C1525.3,344.0 1576.9,330.2 1600.0,300.0C1652.6,231.1 1661.3,101.3 1600.0,40.0C1505.7,-54.3 1290.4,-58.0 1200.0,40.0C1178.7,63.0 1190.0,107.8 1207.5,133.8Z" fill="#fdfcc5" stroke="#b5b77c" stroke-width="1.4" stroke-opacity="0.9"/>
<path d="M1250.0,216.2C1253.3,215.8 1256.9,216.3 1260.0,217.5C1262.8,218.5 1265.3,220.4 1267.5,222.5C1270.1,225.0 1271.7,228.3 1273.8,231.2C1275.8,234.2 1277.6,237.3 1280.0,240.0C1282.3,242.6 1285.4,244.3 1287.5,247.0C1289.1,249.0 1289.7,251.7 1291.2,253.8C1292.7,255.6 1294.2,257.5 1296.2,258.8C1298.9,260.3 1302.3,260.1 1305.0,261.5C1306.9,262.5 1308.9,263.7 1310.0,265.5C1311.0,267.1 1311.2,269.1 1311.2,271.0C1311.3,273.6 1310.6,276.2 1310.0,278.8C1309.4,281.3 1309.1,284.2 1307.5,286.2C1305.7,288.6 1302.1,289.1 1300.0,291.2C1298.4,292.9 1297.6,295.1 1296.5,297.0C1295.6,298.5 1295.2,300.3 1294.0,301.5C1293.2,302.4 1292.2,303.3 1291.0,303.4C1289.6,303.6 1288.2,302.6 1286.9,301.9C1285.2,300.9 1284.1,299.2 1282.5,298.1C1280.9,296.9 1279.3,295.8 1277.5,295.0C1275.5,294.1 1273.3,293.7 1271.2,293.1C1269.2,292.5 1267.2,291.0 1265.0,291.2C1260.2,291.9 1257.3,299.3 1252.5,298.8C1249.6,298.4 1248.1,294.8 1246.2,292.5C1244.3,290.2 1242.6,287.7 1241.2,285.0C1239.6,281.8 1238.6,278.4 1237.5,275.0C1236.5,271.7 1235.6,268.4 1235.0,265.0C1234.3,260.9 1234.1,256.7 1233.8,252.5C1233.4,248.3 1232.8,244.2 1233.1,240.0C1233.4,235.9 1233.9,231.7 1235.5,228.0C1236.8,225.0 1238.7,222.1 1241.2,220.0C1243.7,218.0 1246.9,216.7 1250.0,216.2Z" fill="#fdfcc5" stroke="#b5b77c" stroke-width="1.4" stroke-opacity="0.9"/>
<path d="M1216.2,346.2C1218.1,343.2 1221.7,341.4 1225.0,340.0C1228.9,338.3 1233.3,337.7 1237.5,337.5C1241.7,337.3 1246.1,337.3 1250.0,338.8C1253.4,340.0 1256.4,342.3 1258.8,345.0C1261.2,347.8 1261.4,352.1 1263.8,355.0C1265.4,357.1 1267.5,359.0 1270.0,360.0C1273.1,361.3 1276.7,360.6 1280.0,361.2C1283.4,361.9 1287.1,361.9 1290.0,363.8C1292.8,365.5 1294.8,368.3 1296.2,371.2C1297.9,374.7 1298.1,378.7 1298.8,382.5C1299.4,386.2 1300.0,390.0 1300.0,393.8C1300.0,397.1 1299.6,400.5 1298.8,403.8C1297.9,406.8 1297.2,410.2 1295.0,412.5C1293.1,414.5 1290.3,415.9 1287.5,416.2C1284.1,416.6 1280.8,414.8 1277.5,413.8C1274.1,412.7 1270.9,411.2 1267.5,410.0C1263.8,408.7 1260.0,407.5 1256.2,406.2C1252.5,405.0 1248.6,404.2 1245.0,402.5C1241.4,400.8 1237.9,398.9 1235.0,396.2C1232.4,393.8 1230.1,390.8 1228.8,387.5C1227.5,384.4 1227.9,380.8 1227.5,377.5C1227.1,374.2 1227.6,370.6 1226.2,367.5C1225.0,364.5 1222.1,362.5 1220.0,360.0C1218.3,357.9 1215.7,356.3 1215.0,353.8C1214.4,351.3 1214.9,348.4 1216.2,346.2Z" fill="#fdfcc5" stroke="#b5b77c" stroke-width="1.4" stroke-opacity="0.9"/>
<path d="M1410.0,333.0C1410.3,331.1 1412.5,330.2 1413.8,328.8C1415.0,327.3 1415.8,325.3 1417.5,324.4C1419.7,323.1 1422.5,323.0 1425.0,323.1C1427.6,323.2 1429.9,324.8 1432.5,325.0C1435.0,325.2 1437.6,325.0 1440.0,324.4C1442.6,323.8 1445.0,322.2 1447.5,321.2C1450.0,320.3 1452.4,319.4 1455.0,318.8C1457.5,318.1 1460.0,318.0 1462.5,317.5C1464.6,317.1 1466.7,316.9 1468.8,316.2C1470.5,315.6 1472.2,314.8 1473.8,313.8C1475.1,312.9 1476.2,311.5 1477.5,310.6C1479.5,309.2 1481.5,306.8 1484.0,307.0C1490.8,307.6 1498.6,313.3 1500.0,320.0C1503.1,334.6 1492.7,352.2 1480.0,360.0C1463.0,370.5 1436.4,371.4 1420.0,360.0C1412.1,354.5 1408.2,342.4 1410.0,333.0Z" fill="#fdfcc5" stroke="#b5b77c" stroke-width="1.4" stroke-opacity="0.9"/>
<path d="M1336.2,416.2C1337.2,414.4 1339.3,413.3 1341.2,412.5C1343.2,411.7 1345.6,411.1 1347.5,411.9C1349.3,412.6 1350.6,414.5 1351.2,416.2C1352.3,419.0 1352.0,422.2 1351.2,425.0C1350.6,427.3 1349.5,429.9 1347.5,431.2C1345.7,432.4 1343.3,432.6 1341.2,432.0C1339.1,431.3 1337.2,429.5 1336.2,427.5C1334.7,424.1 1334.6,419.6 1336.2,416.2Z" fill="#fdfcc5" stroke="#b5b77c" stroke-width="1.4" stroke-opacity="0.9"/>
<path d="M1397.0,402.0C1394.0,402.8 1391.3,404.5 1388.8,406.2C1387.4,407.2 1386.2,408.3 1385.0,409.4C1383.3,410.8 1381.7,412.4 1380.0,413.8C1378.4,415.1 1376.6,416.1 1375.0,417.5C1373.7,418.7 1372.2,419.8 1371.2,421.2C1370.3,422.7 1369.5,424.5 1369.4,426.2C1369.3,428.0 1369.9,429.7 1370.6,431.2C1371.3,432.9 1372.8,434.1 1373.8,435.6C1374.7,437.0 1375.7,438.4 1376.2,440.0C1377.0,441.9 1377.3,444.0 1377.5,446.0C1377.8,448.6 1377.7,451.2 1377.5,453.8C1377.3,456.7 1376.2,459.6 1376.2,462.5C1376.2,465.4 1376.3,468.5 1377.5,471.2C1378.6,473.7 1380.6,475.6 1382.5,477.5C1384.8,479.8 1387.6,481.6 1390.0,483.8C1392.2,485.7 1394.5,487.6 1396.2,490.0C1397.8,492.1 1399.0,494.6 1400.0,497.0C1401.7,501.2 1400.4,507.3 1404.0,510.0C1421.7,523.1 1454.4,525.6 1470.0,510.0C1495.9,484.1 1496.3,425.6 1470.0,400.0C1452.6,383.0 1420.6,395.9 1397.0,402.0Z" fill="#fdfcc5" stroke="#b5b77c" stroke-width="1.4" stroke-opacity="0.9"/>
<path d="M1020.0,385.0C1024.2,381.4 1030.8,386.8 1036.2,387.5C1040.8,388.1 1045.5,387.6 1050.0,388.8C1055.3,390.1 1060.4,392.2 1065.0,395.0C1070.6,398.4 1075.7,402.6 1080.0,407.5C1083.3,411.2 1085.6,415.7 1088.0,420.0C1089.8,423.2 1091.0,426.8 1093.0,430.0C1095.8,434.4 1099.1,438.6 1102.5,442.5C1106.4,446.9 1110.8,450.8 1115.0,455.0C1118.3,458.3 1123.6,460.5 1125.0,465.0C1126.2,469.1 1123.4,473.3 1122.5,477.5C1121.7,481.0 1122.1,485.1 1120.0,488.0C1115.4,494.3 1107.5,497.9 1100.0,500.0C1074.3,507.1 1038.9,518.9 1020.0,500.0C992.9,472.9 990.9,410.0 1020.0,385.0Z" fill="#fdfcc5" stroke="#b5b77c" stroke-width="1.4" stroke-opacity="0.9"/>
<path d="M1125.0,465.0C1120.9,461.7 1120.1,455.3 1120.0,450.0C1119.9,445.5 1122.4,441.2 1124.0,437.0C1125.7,432.5 1128.6,428.6 1130.0,424.0C1131.4,419.5 1130.8,414.4 1132.5,410.0C1134.2,405.4 1136.7,401.1 1140.0,397.5C1143.5,393.8 1147.8,390.7 1152.5,388.8C1157.2,386.8 1162.4,385.9 1167.5,386.2C1171.8,386.5 1176.3,387.8 1180.0,390.0C1184.0,392.4 1187.4,396.1 1190.0,400.0C1192.5,403.7 1194.1,408.1 1195.0,412.5C1195.8,416.3 1195.9,420.2 1195.5,424.0C1195.1,427.8 1193.9,431.4 1192.5,435.0C1190.5,440.2 1188.4,445.6 1185.0,450.0C1181.6,454.5 1177.5,458.7 1172.5,461.2C1167.2,464.0 1160.9,464.2 1155.0,465.0C1149.2,465.8 1143.3,466.3 1137.5,466.2C1133.3,466.2 1128.3,467.6 1125.0,465.0Z" fill="#fdfcc5" stroke="#b5b77c" stroke-width="1.4" stroke-opacity="0.9"/>
<path d="M1217.5,462.5C1219.8,459.6 1223.8,458.0 1227.5,457.5C1231.7,456.9 1236.4,457.8 1240.0,460.0C1244.6,462.8 1247.6,467.8 1250.0,472.5C1252.8,477.9 1254.7,483.9 1255.0,490.0C1255.3,495.1 1254.8,500.5 1252.5,505.0C1250.3,509.2 1246.5,512.5 1242.5,515.0C1238.0,517.8 1232.7,519.4 1227.5,520.0C1222.5,520.6 1217.1,520.7 1212.5,518.8C1208.4,517.0 1204.7,513.8 1202.5,510.0C1200.4,506.3 1199.3,501.7 1200.0,497.5C1200.8,492.7 1205.0,489.2 1207.5,485.0C1210.0,480.8 1213.1,477.0 1215.0,472.5C1216.3,469.3 1215.4,465.2 1217.5,462.5Z" fill="#fdfcc5" stroke="#b5b77c" stroke-width="1.4" stroke-opacity="0.9"/>
<path d="M1158.0,517.0C1158.1,515.6 1159.7,514.6 1161.0,514.0C1163.1,513.0 1165.8,512.6 1168.0,513.5C1169.4,514.1 1171.0,515.5 1171.0,517.0C1171.0,518.5 1169.4,519.9 1168.0,520.5C1165.9,521.5 1163.1,521.5 1161.0,520.5C1159.6,519.9 1157.9,518.5 1158.0,517.0Z" fill="#fdfcc5" stroke="#b5b77c" stroke-width="1.4" stroke-opacity="0.9"/>
<path d="M1192.0,85.0C1193.5,89.0 1197.7,91.4 1200.0,95.0C1203.0,99.7 1204.0,105.7 1207.5,110.0C1210.9,114.1 1215.7,116.9 1220.0,120.0C1224.9,123.5 1229.6,127.4 1235.0,130.0C1239.7,132.3 1244.8,134.2 1250.0,135.0C1253.3,135.5 1256.7,134.9 1260.0,135.0C1265.0,135.2 1270.1,135.2 1275.0,136.2C1280.2,137.3 1285.2,139.0 1290.0,141.2C1294.4,143.3 1298.5,146.0 1302.5,148.8C1306.0,151.1 1309.0,154.1 1312.5,156.2C1315.5,158.1 1318.5,161.2 1322.0,161.0C1329.0,160.7 1336.6,156.1 1340.0,150.0C1356.3,120.9 1363.6,73.6 1340.0,50.0C1304.6,14.6 1224.3,13.7 1190.0,50.0C1182.0,58.5 1187.8,74.1 1192.0,85.0Z" fill="#f9b56e" stroke="#e2a24e" stroke-width="1.4" stroke-opacity="0.9"/>
<path d="M1340.0,172.0C1340.6,175.3 1342.6,178.1 1343.8,181.2C1345.1,185.0 1346.1,188.8 1347.5,192.5C1349.0,196.7 1350.3,201.1 1352.5,205.0C1354.5,208.6 1356.7,212.5 1360.0,215.0C1363.6,217.7 1368.1,219.4 1372.5,220.0C1376.6,220.6 1380.9,219.7 1385.0,218.8C1388.5,217.9 1391.5,215.4 1395.0,215.0C1398.3,214.6 1401.7,215.4 1405.0,216.2C1408.5,217.1 1411.7,218.6 1415.0,220.0C1418.4,221.5 1421.4,223.9 1425.0,225.0C1428.2,226.0 1431.6,226.5 1435.0,226.2C1438.4,226.0 1441.7,224.8 1445.0,223.8C1448.4,222.7 1451.5,220.6 1455.0,220.0C1458.3,219.4 1461.8,219.0 1465.0,220.0C1467.9,220.9 1470.5,222.8 1472.5,225.0C1474.6,227.2 1475.9,230.2 1477.0,233.0C1478.5,236.8 1478.6,241.1 1480.0,245.0C1481.3,248.5 1482.9,251.9 1485.0,255.0C1487.1,258.2 1490.0,260.8 1492.5,263.8C1495.0,266.7 1497.7,269.4 1500.0,272.5C1501.8,274.9 1503.3,277.5 1505.0,280.0C1506.9,282.7 1508.1,286.4 1511.0,288.0C1516.5,291.1 1523.8,291.3 1530.0,290.0C1556.3,284.5 1586.5,273.2 1600.0,250.0C1631.8,195.2 1644.8,104.8 1600.0,60.0C1538.7,-1.3 1401.3,-1.3 1340.0,60.0C1313.6,86.4 1332.9,135.4 1340.0,172.0Z" fill="#f9b56e" stroke="#e2a24e" stroke-width="1.4" stroke-opacity="0.9"/>
<path d="M1247.0,238.0C1248.3,235.5 1250.5,233.2 1253.0,232.0C1255.4,230.8 1258.4,230.5 1261.0,231.0C1263.6,231.5 1265.9,233.3 1268.0,235.0C1270.7,237.2 1272.6,240.4 1275.0,243.0C1277.6,245.8 1280.6,248.1 1283.0,251.0C1285.2,253.8 1287.3,256.7 1288.8,260.0C1290.1,263.2 1291.2,266.6 1291.2,270.0C1291.2,273.4 1290.4,277.0 1288.8,280.0C1287.3,282.6 1285.1,285.0 1282.5,286.2C1279.5,287.7 1275.8,288.2 1272.5,287.5C1268.7,286.7 1265.6,283.7 1262.5,281.2C1259.3,278.7 1256.3,275.7 1253.8,272.5C1251.3,269.4 1249.0,266.2 1247.5,262.5C1245.9,258.6 1245.1,254.2 1245.0,250.0C1244.9,245.9 1245.1,241.6 1247.0,238.0Z" fill="#f9b56e" stroke="#e2a24e" stroke-width="1.4" stroke-opacity="0.9"/>
<path d="M1326.2,239.4C1328.1,239.2 1328.6,242.3 1329.5,244.0C1330.8,246.5 1333.9,249.5 1332.5,251.9C1331.7,253.2 1329.5,252.5 1328.0,252.5C1326.8,252.5 1325.4,252.6 1324.4,251.9C1323.1,250.9 1322.5,249.1 1322.5,247.5C1322.5,244.5 1323.3,239.7 1326.2,239.4Z" fill="#f9b56e" stroke="#e2a24e" stroke-width="1.4" stroke-opacity="0.9"/>
<path d="M1231.2,345.0C1231.9,343.1 1234.3,342.1 1236.2,341.9C1238.0,341.7 1240.1,342.4 1241.2,343.8C1242.4,345.0 1243.0,347.1 1242.5,348.8C1242.0,350.5 1240.5,352.0 1238.8,352.5C1237.1,353.0 1235.0,352.4 1233.8,351.2C1232.1,349.8 1230.5,347.1 1231.2,345.0Z" fill="#f9b56e" stroke="#e2a24e" stroke-width="1.4" stroke-opacity="0.9"/>
<path d="M1247.5,382.5C1247.3,379.1 1248.6,375.6 1250.0,372.5C1251.2,369.8 1252.7,367.0 1255.0,365.0C1257.1,363.2 1259.8,361.8 1262.5,361.2C1265.4,360.7 1268.4,361.1 1271.2,361.9C1274.4,362.8 1277.4,364.2 1280.0,366.2C1282.6,368.3 1284.6,370.9 1286.2,373.8C1288.0,376.8 1288.9,380.4 1290.0,383.8C1291.0,387.0 1291.9,390.4 1292.5,393.8C1293.1,397.1 1294.1,400.4 1293.8,403.8C1293.5,406.4 1293.2,409.5 1291.2,411.2C1289.7,412.7 1287.1,412.9 1285.0,412.5C1282.1,411.9 1280.0,409.1 1277.5,407.5C1274.2,405.4 1270.8,403.3 1267.5,401.2C1264.2,399.2 1260.7,397.3 1257.5,395.0C1254.9,393.1 1251.9,391.4 1250.0,388.8C1248.7,386.9 1247.7,384.7 1247.5,382.5Z" fill="#f9b56e" stroke="#e2a24e" stroke-width="1.4" stroke-opacity="0.9"/>
<path d="M1398.0,408.0C1395.6,409.0 1394.2,411.8 1392.5,413.8C1390.7,415.8 1389.2,418.0 1387.5,420.0C1386.1,421.7 1384.3,423.2 1383.1,425.0C1382.1,426.5 1381.1,428.2 1380.6,430.0C1380.1,431.6 1379.9,433.3 1380.0,435.0C1380.1,436.7 1381.1,438.3 1381.2,440.0C1381.5,442.0 1380.0,444.3 1381.0,446.0C1384.6,452.2 1393.1,453.9 1400.0,456.0C1412.8,459.9 1430.1,469.0 1440.0,460.0C1452.9,448.4 1452.3,420.3 1440.0,408.0C1430.1,398.1 1410.9,402.5 1398.0,408.0Z" fill="#f9b56e" stroke="#e2a24e" stroke-width="1.4" stroke-opacity="0.9"/>
<path d="M1030.0,424.0C1032.2,421.4 1036.7,422.7 1040.0,422.0C1044.2,421.2 1048.3,419.4 1052.5,419.5C1056.1,419.6 1059.9,420.1 1063.0,422.0C1065.2,423.4 1066.9,425.6 1068.0,428.0C1069.7,431.7 1069.8,436.0 1070.0,440.0C1070.8,453.3 1077.7,470.8 1068.0,480.0C1058.8,488.7 1039.0,489.0 1030.0,480.0C1016.8,466.8 1018.2,438.4 1030.0,424.0Z" fill="#f9b56e" stroke="#e2a24e" stroke-width="1.4" stroke-opacity="0.9"/>
<path d="M1147.5,420.0C1147.5,415.5 1149.6,410.9 1152.5,407.5C1155.0,404.5 1158.6,401.6 1162.5,401.2C1166.0,400.9 1170.0,402.5 1172.5,405.0C1175.7,408.1 1176.4,413.1 1177.5,417.5C1178.3,420.9 1179.8,424.8 1178.5,428.0C1177.1,431.4 1173.4,433.5 1170.0,435.0C1166.9,436.3 1163.3,437.1 1160.0,436.2C1156.5,435.4 1153.4,432.8 1151.2,430.0C1149.1,427.2 1147.5,423.6 1147.5,420.0Z" fill="#f9b56e" stroke="#e2a24e" stroke-width="1.4" stroke-opacity="0.9"/>
<path d="M1227.5,475.0C1230.6,473.7 1234.4,472.5 1237.5,473.8C1241.1,475.1 1243.5,479.0 1245.0,482.5C1246.6,486.4 1247.2,490.9 1246.2,495.0C1245.4,498.8 1243.2,502.7 1240.0,505.0C1237.2,507.0 1233.4,508.0 1230.0,507.5C1226.7,507.0 1223.2,505.2 1221.2,502.5C1218.8,499.1 1218.6,494.2 1218.8,490.0C1218.8,486.6 1219.4,482.9 1221.2,480.0C1222.7,477.8 1225.0,476.0 1227.5,475.0Z" fill="#f9b56e" stroke="#e2a24e" stroke-width="1.4" stroke-opacity="0.9"/>
<path d="M1212.0,80.0C1213.0,83.3 1215.6,85.9 1217.5,88.8C1219.9,92.5 1222.4,96.3 1225.0,100.0C1227.4,103.4 1229.7,106.9 1232.5,110.0C1235.5,113.2 1238.5,116.8 1242.5,118.8C1246.3,120.6 1250.8,121.0 1255.0,121.2C1259.2,121.5 1263.3,120.5 1267.5,120.0C1270.8,119.6 1274.2,118.3 1277.5,118.8C1282.0,119.3 1285.9,121.9 1290.0,123.8C1294.2,125.7 1298.3,128.0 1302.5,130.0C1305.7,131.5 1308.5,134.2 1312.0,134.5C1318.2,135.1 1326.2,134.9 1330.0,130.0C1346.4,109.0 1348.9,68.9 1330.0,50.0C1302.2,22.2 1239.8,22.2 1212.0,50.0C1204.9,57.1 1209.2,70.4 1212.0,80.0Z" fill="#e24d3b" stroke="#f0983c" stroke-width="1.4" stroke-opacity="0.9"/>
<path d="M1390.0,162.0C1391.1,165.7 1393.3,169.4 1396.2,171.9C1398.7,173.9 1402.7,173.4 1405.0,175.5C1407.6,177.9 1409.0,181.6 1410.0,185.0C1411.4,189.8 1410.2,195.1 1411.2,200.0C1412.0,203.9 1412.6,208.1 1415.0,211.2C1417.4,214.5 1421.0,217.7 1425.0,218.1C1427.7,218.4 1430.1,216.2 1432.5,215.0C1436.0,213.2 1439.1,210.7 1442.5,208.8C1445.8,206.9 1449.1,205.2 1452.5,203.8C1454.9,202.7 1457.4,201.4 1460.0,201.2C1463.4,201.1 1466.9,202.4 1470.0,203.8C1472.7,205.0 1475.1,207.0 1477.5,208.8C1480.1,210.7 1482.7,212.7 1485.0,215.0C1487.7,217.7 1490.0,220.8 1492.5,223.8C1495.0,226.7 1497.6,229.5 1500.0,232.5C1502.2,235.3 1504.2,238.1 1506.2,241.0C1508.4,244.1 1510.2,247.5 1512.5,250.5C1514.0,252.5 1515.6,254.5 1517.5,256.2C1519.5,258.1 1521.5,260.1 1524.0,261.0C1530.6,263.3 1538.2,263.7 1545.0,262.0C1565.6,257.0 1589.4,248.4 1600.0,230.0C1628.3,180.9 1640.1,100.1 1600.0,60.0C1550.5,10.5 1439.5,10.5 1390.0,60.0C1366.0,84.0 1380.6,129.3 1390.0,162.0Z" fill="#e24d3b" stroke="#f0983c" stroke-width="1.4" stroke-opacity="0.9"/>
<path d="M1253.8,248.0C1254.2,245.5 1255.0,242.7 1257.0,241.0C1258.8,239.4 1261.6,238.7 1264.0,239.0C1266.7,239.3 1268.9,241.3 1271.0,243.0C1273.4,245.0 1275.0,247.7 1277.0,250.0C1278.8,252.1 1281.4,253.7 1282.5,256.2C1283.9,259.3 1284.5,263.0 1283.8,266.2C1283.1,269.2 1281.3,272.1 1278.8,273.8C1276.3,275.3 1272.9,275.7 1270.0,275.0C1266.5,274.2 1263.7,271.4 1261.2,268.8C1258.6,265.9 1256.3,262.5 1255.0,258.8C1253.8,255.3 1253.2,251.6 1253.8,248.0Z" fill="#e24d3b" stroke="#f0983c" stroke-width="1.4" stroke-opacity="0.9"/>
<path d="M1260.0,381.2C1259.9,379.1 1260.1,376.8 1261.2,375.0C1262.4,373.2 1264.3,371.9 1266.2,371.2C1268.2,370.6 1270.5,370.6 1272.5,371.2C1274.5,371.9 1276.2,373.3 1277.5,375.0C1278.9,376.8 1280.1,379.0 1280.0,381.2C1279.9,383.1 1278.9,385.0 1277.5,386.2C1275.8,387.8 1273.5,388.5 1271.2,388.8C1269.1,388.9 1267.0,388.3 1265.0,387.5C1263.6,386.9 1262.2,386.2 1261.2,385.0C1260.5,384.0 1260.1,382.6 1260.0,381.2Z" fill="#e24d3b" stroke="#f0983c" stroke-width="1.4" stroke-opacity="0.9"/>
<path d="M1393.0,411.0C1397.6,406.6 1407.4,406.6 1412.0,411.0C1415.1,414.0 1412.4,419.7 1412.5,424.0C1412.5,426.0 1412.7,428.0 1412.5,430.0C1412.2,432.7 1412.4,435.7 1411.0,438.0C1408.6,441.8 1404.4,447.1 1400.0,446.0C1397.1,445.3 1397.5,440.6 1396.0,438.0C1394.9,436.1 1393.3,434.5 1392.5,432.5C1391.9,430.9 1391.5,429.2 1391.5,427.5C1391.5,425.6 1392.3,423.9 1392.5,422.0C1392.9,418.4 1390.3,413.5 1393.0,411.0Z" fill="#e24d3b" stroke="#f0983c" stroke-width="1.4" stroke-opacity="0.9"/>
<path d="M1503.0,207.0C1504.2,210.6 1507.3,213.4 1510.0,216.0C1512.2,218.2 1514.6,220.3 1517.5,221.5C1520.1,222.6 1523.2,223.7 1526.0,223.0C1528.4,222.4 1530.3,220.4 1532.0,218.5C1534.2,216.0 1535.4,212.9 1537.0,210.0C1538.4,207.4 1540.3,204.9 1541.0,202.0C1541.9,198.1 1543.8,192.8 1541.0,190.0C1532.0,181.0 1512.0,181.0 1503.0,190.0C1499.0,194.0 1501.2,201.6 1503.0,207.0Z" fill="#a93548" stroke="#f0983c" stroke-width="1.4" stroke-opacity="0.9"/>
<path d="M1437.0,175.0C1437.7,176.7 1439.4,178.0 1441.0,179.0C1442.9,180.2 1445.2,181.0 1447.5,181.0C1450.1,181.0 1452.6,179.7 1455.0,178.5C1456.8,177.6 1459.1,176.8 1460.0,175.0C1461.1,172.9 1461.6,169.6 1460.0,168.0C1454.6,162.6 1442.4,162.6 1437.0,168.0C1435.4,169.6 1436.1,172.8 1437.0,175.0Z" fill="#a93548" stroke="#f0983c" stroke-width="1.4" stroke-opacity="0.9"/>
<path d="M1269.0,252.0C1270.4,251.9 1271.5,253.7 1272.0,255.0C1272.9,257.2 1272.8,259.8 1272.0,262.0C1271.6,263.2 1270.8,264.9 1269.5,265.0C1268.1,265.1 1267.0,263.3 1266.5,262.0C1265.6,259.8 1265.7,257.2 1266.5,255.0C1266.9,253.8 1267.7,252.1 1269.0,252.0Z" fill="#a93548"/>
<path d="M1356.6,372.0C1356.6,371.3 1357.3,370.6 1358.0,370.6C1358.7,370.6 1359.4,371.3 1359.4,372.0C1359.4,372.7 1358.7,373.4 1358.0,373.4C1357.3,373.4 1356.6,372.7 1356.6,372.0Z" fill="#5f7f9f"/>
<text class="cty" x="1003.6" y="150.4" text-anchor="middle" textLength="26.5" lengthAdjust="spacingAndGlyphs">石渠县</text>
<text class="cty" x="1194.1" y="169.7" text-anchor="middle" textLength="26.5" lengthAdjust="spacingAndGlyphs">阿坝县</text>
<text class="cty" x="1257.6" y="124.5" text-anchor="middle" textLength="35.4" lengthAdjust="spacingAndGlyphs">若尔盖县</text>
<text class="cty" x="1309.3" y="147.1" text-anchor="middle" textLength="35.4" lengthAdjust="spacingAndGlyphs">九寨沟县</text>
<text class="cty" x="1233.9" y="193.6" text-anchor="middle" textLength="26.5" lengthAdjust="spacingAndGlyphs">红原县</text>
<text class="cty" x="1277.5" y="190.6" text-anchor="middle" textLength="26.5" lengthAdjust="spacingAndGlyphs">松潘县</text>
<text class="cty" x="1333.5" y="197.4" text-anchor="middle" textLength="26.5" lengthAdjust="spacingAndGlyphs">平武县</text>
<text class="cty" x="1256.3" y="215.8" text-anchor="middle" textLength="26.5" lengthAdjust="spacingAndGlyphs">黑水县</text>
<text class="cty" x="1109.4" y="207.5" text-anchor="middle" textLength="26.5" lengthAdjust="spacingAndGlyphs">色达县</text>
<text class="cty" x="1043.5" y="226.8" text-anchor="middle" textLength="26.5" lengthAdjust="spacingAndGlyphs">德格县</text>
<text class="cty" x="1082.0" y="222.0" text-anchor="middle" textLength="26.5" lengthAdjust="spacingAndGlyphs">甘孜县</text>
<text class="cty" x="1154.2" y="225.8" text-anchor="middle" textLength="26.5" lengthAdjust="spacingAndGlyphs">壤塘县</text>
<text class="cty" x="1206.0" y="230.1" text-anchor="middle" textLength="35.4" lengthAdjust="spacingAndGlyphs">马尔康市</text>
<text class="cty" x="1282.4" y="242.2" text-anchor="middle" textLength="17.7" lengthAdjust="spacingAndGlyphs">茂县</text>
<text class="cty" x="1258.1" y="257.8" text-anchor="middle" textLength="17.7" lengthAdjust="spacingAndGlyphs">理县</text>
<text class="cty" x="1192.8" y="260.3" text-anchor="middle" textLength="26.5" lengthAdjust="spacingAndGlyphs">金川县</text>
<text class="cty" x="1135.6" y="265.3" text-anchor="middle" textLength="26.5" lengthAdjust="spacingAndGlyphs">炉霍县</text>
<text class="cty" x="1370.8" y="196.1" text-anchor="middle" textLength="26.5" lengthAdjust="spacingAndGlyphs">青川县</text>
<text class="cty" x="1415.6" y="188.1" text-anchor="middle" textLength="26.5" lengthAdjust="spacingAndGlyphs">朝天区</text>
<text class="cty" x="1415.6" y="200.7" text-anchor="middle" textLength="26.5" lengthAdjust="spacingAndGlyphs">利州区</text>
<text class="cty" x="1467.9" y="210.7" text-anchor="middle" textLength="26.5" lengthAdjust="spacingAndGlyphs">南江县</text>
<text class="cty" x="1490.3" y="224.3" text-anchor="middle" textLength="26.5" lengthAdjust="spacingAndGlyphs">通江县</text>
<text class="cty" x="1521.4" y="231.8" text-anchor="middle" textLength="26.5" lengthAdjust="spacingAndGlyphs">万源市</text>
<text class="cty" x="1411.9" y="222.0" text-anchor="middle" textLength="26.5" lengthAdjust="spacingAndGlyphs">昭化区</text>
<text class="cty" x="1360.9" y="235.1" text-anchor="middle" textLength="26.5" lengthAdjust="spacingAndGlyphs">江油市</text>
<text class="cty" x="1388.3" y="235.1" text-anchor="middle" textLength="26.5" lengthAdjust="spacingAndGlyphs">剑阁县</text>
<text class="cty" x="1423.1" y="238.4" text-anchor="middle" textLength="26.5" lengthAdjust="spacingAndGlyphs">苍溪县</text>
<text class="cty" x="1460.4" y="245.2" text-anchor="middle" textLength="26.5" lengthAdjust="spacingAndGlyphs">巴州区</text>
<text class="cty" x="1374.6" y="251.5" text-anchor="middle" textLength="26.5" lengthAdjust="spacingAndGlyphs">梓潼县</text>
<text class="cty" x="1415.6" y="256.5" text-anchor="middle" textLength="26.5" lengthAdjust="spacingAndGlyphs">阆中市</text>
<text class="cty" x="1479.1" y="257.8" text-anchor="middle" textLength="26.5" lengthAdjust="spacingAndGlyphs">平昌县</text>
<text class="cty" x="1450.5" y="267.8" text-anchor="middle" textLength="26.5" lengthAdjust="spacingAndGlyphs">仪陇县</text>
<text class="cty" x="1319.8" y="267.8" text-anchor="middle" textLength="26.5" lengthAdjust="spacingAndGlyphs">绵竹市</text>
<text class="cty" x="1347.2" y="267.8" text-anchor="middle" textLength="26.5" lengthAdjust="spacingAndGlyphs">涪城区</text>
<text class="cty" x="1494.1" y="272.8" text-anchor="middle" textLength="26.5" lengthAdjust="spacingAndGlyphs">通川区</text>
<text class="cty" x="1271.2" y="279.6" text-anchor="middle" textLength="26.5" lengthAdjust="spacingAndGlyphs">汶川县</text>
<text class="cty" x="1333.5" y="282.9" text-anchor="middle" textLength="26.5" lengthAdjust="spacingAndGlyphs">旌阳区</text>
<text class="cty" x="1389.5" y="280.9" text-anchor="middle" textLength="26.5" lengthAdjust="spacingAndGlyphs">盐亭县</text>
<text class="cty" x="1487.8" y="287.9" text-anchor="middle" textLength="26.5" lengthAdjust="spacingAndGlyphs">达川区</text>
<text class="cty" x="1296.1" y="291.7" text-anchor="middle" textLength="35.4" lengthAdjust="spacingAndGlyphs">都江堰市</text>
<text class="cty" x="1436.8" y="295.0" text-anchor="middle" textLength="26.5" lengthAdjust="spacingAndGlyphs">蓬安县</text>
<text class="cty" x="1464.2" y="297.5" text-anchor="middle" textLength="17.7" lengthAdjust="spacingAndGlyphs">渠县</text>
<text class="cty" x="1350.9" y="301.8" text-anchor="middle" textLength="26.5" lengthAdjust="spacingAndGlyphs">中江县</text>
<text class="cty" x="1385.8" y="301.8" text-anchor="middle" textLength="26.5" lengthAdjust="spacingAndGlyphs">射洪市</text>
<text class="cty" x="1291.2" y="315.6" text-anchor="middle" textLength="26.5" lengthAdjust="spacingAndGlyphs">崇州市</text>
<text class="cty" x="1319.8" y="315.6" text-anchor="middle" textLength="26.5" lengthAdjust="spacingAndGlyphs">成华区</text>
<text class="cty" x="1344.7" y="313.8" text-anchor="middle" textLength="26.5" lengthAdjust="spacingAndGlyphs">金堂县</text>
<text class="cty" x="1414.4" y="315.6" text-anchor="middle" textLength="26.5" lengthAdjust="spacingAndGlyphs">嘉陵区</text>
<text class="cty" x="1480.6" y="316.8" text-anchor="middle" textLength="26.5" lengthAdjust="spacingAndGlyphs">大竹县</text>
<text class="cty" x="1377.5" y="321.9" text-anchor="middle" textLength="26.5" lengthAdjust="spacingAndGlyphs">大英县</text>
<text class="cty" x="1453.0" y="321.4" text-anchor="middle" textLength="26.5" lengthAdjust="spacingAndGlyphs">广安区</text>
<text class="cty" x="1241.4" y="324.4" text-anchor="middle" textLength="26.5" lengthAdjust="spacingAndGlyphs">宝兴县</text>
<text class="cty" x="1301.1" y="331.9" text-anchor="middle" textLength="26.5" lengthAdjust="spacingAndGlyphs">新津区</text>
<text class="cty" x="1334.7" y="333.2" text-anchor="middle" textLength="35.4" lengthAdjust="spacingAndGlyphs">东部新区</text>
<text class="cty" x="1385.0" y="335.2" text-anchor="middle" textLength="26.5" lengthAdjust="spacingAndGlyphs">安居区</text>
<text class="cty" x="1429.3" y="335.7" text-anchor="middle" textLength="26.5" lengthAdjust="spacingAndGlyphs">武胜县</text>
<text class="cty" x="1458.0" y="339.5" text-anchor="middle" textLength="26.5" lengthAdjust="spacingAndGlyphs">华蓥市</text>
<text class="cty" x="1286.2" y="345.0" text-anchor="middle" textLength="26.5" lengthAdjust="spacingAndGlyphs">蒲江县</text>
<text class="cty" x="1238.9" y="353.3" text-anchor="middle" textLength="26.5" lengthAdjust="spacingAndGlyphs">天全县</text>
<text class="cty" x="1278.7" y="359.1" text-anchor="middle" textLength="26.5" lengthAdjust="spacingAndGlyphs">丹棱县</text>
<text class="cty" x="1323.5" y="359.6" text-anchor="middle" textLength="26.5" lengthAdjust="spacingAndGlyphs">仁寿县</text>
<text class="cty" x="1352.2" y="354.6" text-anchor="middle" textLength="26.5" lengthAdjust="spacingAndGlyphs">雁江区</text>
<text class="cty" x="1382.5" y="359.6" text-anchor="middle" textLength="26.5" lengthAdjust="spacingAndGlyphs">安岳县</text>
<text class="cty" x="1242.6" y="378.0" text-anchor="middle" textLength="26.5" lengthAdjust="spacingAndGlyphs">荥经县</text>
<text class="cty" x="1288.7" y="373.4" text-anchor="middle" textLength="26.5" lengthAdjust="spacingAndGlyphs">夹江县</text>
<text class="cty" x="1317.3" y="381.0" text-anchor="middle" textLength="26.5" lengthAdjust="spacingAndGlyphs">井研县</text>
<text class="cty" x="1344.7" y="386.0" text-anchor="middle" textLength="26.5" lengthAdjust="spacingAndGlyphs">威远县</text>
<text class="cty" x="1373.6" y="383.0" text-anchor="middle" textLength="26.5" lengthAdjust="spacingAndGlyphs">东兴区</text>
<text class="cty" x="1284.4" y="391.5" text-anchor="middle" textLength="35.4" lengthAdjust="spacingAndGlyphs">峨眉山市</text>
<text class="cty" x="1376.6" y="400.3" text-anchor="middle" textLength="26.5" lengthAdjust="spacingAndGlyphs">隆昌市</text>
<text class="cty" x="1267.5" y="407.9" text-anchor="middle" textLength="35.4" lengthAdjust="spacingAndGlyphs">金口河区</text>
<text class="cty" x="1307.3" y="408.1" text-anchor="middle" textLength="26.5" lengthAdjust="spacingAndGlyphs">犍为县</text>
<text class="cty" x="1343.4" y="405.4" text-anchor="middle" textLength="26.5" lengthAdjust="spacingAndGlyphs">贡井区</text>
<text class="cty" x="1282.4" y="422.5" text-anchor="middle" textLength="61.9" lengthAdjust="spacingAndGlyphs">峨边彝族自治县</text>
<text class="cty" x="1392.0" y="427.0" text-anchor="middle" textLength="35.4" lengthAdjust="spacingAndGlyphs">龙马潭区</text>
<text class="cty" x="1303.6" y="440.1" text-anchor="middle" textLength="61.9" lengthAdjust="spacingAndGlyphs">马边彝族自治县</text>
<text class="cty" x="1369.6" y="443.8" text-anchor="middle" textLength="26.5" lengthAdjust="spacingAndGlyphs">江安县</text>
<text class="cty" x="1411.4" y="440.1" text-anchor="middle" textLength="26.5" lengthAdjust="spacingAndGlyphs">合江县</text>
<text class="cty" x="1262.0" y="460.7" text-anchor="middle" textLength="26.5" lengthAdjust="spacingAndGlyphs">美姑县</text>
<text class="cty" x="1336.0" y="457.2" text-anchor="middle" textLength="17.7" lengthAdjust="spacingAndGlyphs">高县</text>
<text class="cty" x="1236.4" y="474.0" text-anchor="middle" textLength="26.5" lengthAdjust="spacingAndGlyphs">喜德县</text>
<text class="cty" x="1277.5" y="474.0" text-anchor="middle" textLength="26.5" lengthAdjust="spacingAndGlyphs">雷波县</text>
<text class="cty" x="1347.2" y="475.3" text-anchor="middle" textLength="17.7" lengthAdjust="spacingAndGlyphs">珙县</text>
<text class="cty" x="1385.8" y="482.3" text-anchor="middle" textLength="26.5" lengthAdjust="spacingAndGlyphs">叙永县</text>
<text class="cty" x="1414.9" y="487.9" text-anchor="middle" textLength="26.5" lengthAdjust="spacingAndGlyphs">古蔺县</text>
<text class="cty" x="1250.6" y="514.3" text-anchor="middle" textLength="26.5" lengthAdjust="spacingAndGlyphs">布拖县</text>
<text class="cty" x="1242.9" y="547.7" text-anchor="middle" textLength="26.5" lengthAdjust="spacingAndGlyphs">宁南县</text>
<text class="cty" x="1240.6" y="580.9" text-anchor="middle" textLength="26.5" lengthAdjust="spacingAndGlyphs">会东县</text>
<text class="cty" x="1062.1" y="294.7" text-anchor="middle" textLength="26.5" lengthAdjust="spacingAndGlyphs">白玉县</text>
<text class="cty" x="1114.4" y="293.0" text-anchor="middle" textLength="26.5" lengthAdjust="spacingAndGlyphs">新龙县</text>
<text class="cty" x="1153.5" y="297.5" text-anchor="middle" textLength="26.5" lengthAdjust="spacingAndGlyphs">道孚县</text>
<text class="cty" x="1197.3" y="302.3" text-anchor="middle" textLength="26.5" lengthAdjust="spacingAndGlyphs">丹巴县</text>
<text class="cty" x="1235.6" y="285.9" text-anchor="middle" textLength="26.5" lengthAdjust="spacingAndGlyphs">小金县</text>
<text class="cty" x="1060.9" y="369.7" text-anchor="middle" textLength="26.5" lengthAdjust="spacingAndGlyphs">巴塘县</text>
<text class="cty" x="1102.5" y="370.2" text-anchor="middle" textLength="26.5" lengthAdjust="spacingAndGlyphs">理塘县</text>
<text class="cty" x="1150.5" y="372.7" text-anchor="middle" textLength="26.5" lengthAdjust="spacingAndGlyphs">雅江县</text>
<text class="cty" x="1190.3" y="362.1" text-anchor="middle" textLength="26.5" lengthAdjust="spacingAndGlyphs">康定市</text>
<text class="cty" x="1211.5" y="373.4" text-anchor="middle" textLength="26.5" lengthAdjust="spacingAndGlyphs">泸定县</text>
<text class="cty" x="1220.2" y="411.2" text-anchor="middle" textLength="26.5" lengthAdjust="spacingAndGlyphs">石棉县</text>
<text class="cty" x="1085.8" y="416.2" text-anchor="middle" textLength="26.5" lengthAdjust="spacingAndGlyphs">乡城县</text>
<text class="cty" x="1115.2" y="433.8" text-anchor="middle" textLength="26.5" lengthAdjust="spacingAndGlyphs">稻城县</text>
<text class="cty" x="1181.6" y="434.5" text-anchor="middle" textLength="26.5" lengthAdjust="spacingAndGlyphs">九龙县</text>
<text class="cty" x="1063.4" y="442.6" text-anchor="middle" textLength="26.5" lengthAdjust="spacingAndGlyphs">得荣县</text>
<text class="cty" x="1207.8" y="451.4" text-anchor="middle" textLength="26.5" lengthAdjust="spacingAndGlyphs">冕宁县</text>
<text class="cty" x="1214.7" y="497.4" text-anchor="middle" textLength="26.5" lengthAdjust="spacingAndGlyphs">西昌市</text>
<text class="cty" x="1184.6" y="507.2" text-anchor="middle" textLength="26.5" lengthAdjust="spacingAndGlyphs">盐源县</text>
<text class="cty" x="1215.2" y="530.1" text-anchor="middle" textLength="26.5" lengthAdjust="spacingAndGlyphs">德昌县</text>
<text class="cty" x="1204.0" y="555.0" text-anchor="middle" textLength="26.5" lengthAdjust="spacingAndGlyphs">米易县</text>
<text class="cty" x="1185.4" y="578.4" text-anchor="middle" textLength="17.7" lengthAdjust="spacingAndGlyphs">东区</text>
<text class="cty" x="1214.0" y="576.4" text-anchor="middle" textLength="26.5" lengthAdjust="spacingAndGlyphs">会理县</text>
<text class="cty" x="1194.1" y="593.5" text-anchor="middle" textLength="26.5" lengthAdjust="spacingAndGlyphs">仁和区</text>
<text class="ctr" x="0" y="4.3" text-anchor="middle" transform="translate(1246.2 153.0) scale(0.84 1) rotate(4.2)">0.0</text>
<text class="ctr" x="0" y="4.3" text-anchor="middle" transform="translate(1172.5 224.4) scale(0.84 1) rotate(8.4)">12.0</text>
<text class="ctr" x="0" y="4.3" text-anchor="middle" transform="translate(1241.2 218.8) scale(0.84 1) rotate(-50.2)">0.0</text>
<text class="ctr" x="0" y="4.3" text-anchor="middle" transform="translate(1247.5 238.8) scale(0.84 1) rotate(-55.5)">-3.8</text>
<text class="ctr" x="0" y="4.3" text-anchor="middle" transform="translate(1258.8 241.2) scale(0.84 1) rotate(-30.5)">-7.5</text>
<text class="ctr" x="0" y="4.3" text-anchor="middle" transform="translate(1303.8 220.0) scale(0.84 1) rotate(45.0)">6.0</text>
<text class="ctr" x="0" y="4.3" text-anchor="middle" transform="translate(1226.2 270.0) scale(0.84 1) rotate(61.0)">6.0</text>
<text class="ctr" x="0" y="4.3" text-anchor="middle" transform="translate(1453.8 222.5) scale(0.84 1) rotate(0.0)">-3.8</text>
<text class="ctr" x="0" y="4.3" text-anchor="middle" transform="translate(1488.0 211.0) scale(0.84 1) rotate(30.5)">-7.5</text>
<text class="ctr" x="0" y="4.3" text-anchor="middle" transform="translate(1142.5 390.0) scale(0.84 1) rotate(-40.0)">0.0</text>
<text class="ctr" x="0" y="4.3" text-anchor="middle" transform="translate(1150.0 410.0) scale(0.84 1) rotate(-61.0)">-3.8</text>
<text class="ctr" x="0" y="4.3" text-anchor="middle" transform="translate(1225.0 357.5) scale(0.84 1) rotate(78.1)">0.0</text>
<text class="ctr" x="0" y="4.3" text-anchor="middle" transform="translate(1253.8 361.2) scale(0.84 1) rotate(-55.5)">-3.8</text>
<text class="ctr" x="0" y="4.3" text-anchor="middle" transform="translate(1368.8 360.0) scale(0.84 1) rotate(50.2)">12.0</text>
<text class="ctr" x="0" y="4.3" text-anchor="middle" transform="translate(1476.2 305.0) scale(0.84 1) rotate(-55.5)">0.0</text>
<text class="ctr" x="0" y="4.3" text-anchor="middle" transform="translate(1223.8 457.5) scale(0.84 1) rotate(-55.5)">0.0</text>
<text class="ctr" x="0" y="4.3" text-anchor="middle" transform="translate(1326.2 425.0) scale(0.84 1) rotate(55.5)">12.0</text>
</g>
<path d="M972.5,79.3 L981.2,80.6 L993.7,84.3 L1001.1,88.0 L1003.6,96.9 L1007.3,104.4 L1013.6,113.2 L1017.3,125.8 L1021.1,137.1 L1023.5,143.4 L1031.0,149.7 L1041.0,153.4 L1046.0,162.3 L1053.4,166.1 L1063.4,167.3 L1070.8,171.1 L1073.3,162.3 L1079.6,156.0 L1084.6,161.1 L1090.8,167.3 L1093.3,177.4 L1100.7,176.1 L1108.2,177.4 L1115.7,184.9 L1120.6,187.4 L1125.6,182.4 L1133.1,182.4 L1140.6,179.9 L1148.0,174.8 L1150.5,167.3 L1145.5,159.7 L1146.7,149.7 L1149.3,142.1 L1155.5,140.9 L1160.5,144.7 L1167.9,147.2 L1172.9,148.4 L1177.9,142.1 L1175.4,134.6 L1176.6,125.8 L1182.9,119.5 L1186.6,123.2 L1187.9,132.1 L1182.9,139.6 L1182.9,147.2 L1186.6,148.4 L1192.8,144.7 L1200.3,139.6 L1207.8,133.3 L1215.2,127.1 L1215.2,119.5 L1209.1,112.0 L1205.3,104.4 L1202.8,94.4 L1210.3,91.8 L1220.2,88.0 L1229.0,80.6 L1238.9,74.2 L1245.1,76.8 L1250.1,84.3 L1253.9,91.8 L1255.1,101.9 L1262.5,108.1 L1271.2,105.7 L1277.5,112.0 L1289.9,114.5 L1302.4,114.5 L1307.3,119.5 L1309.8,129.6 L1314.8,135.9 L1321.0,137.1 L1316.0,142.1 L1317.3,149.7 L1319.8,156.0 L1314.8,162.3 L1316.0,168.5 L1324.8,173.5 L1334.7,178.6 L1343.5,181.2 L1349.7,181.2 L1357.1,184.9 L1365.8,178.6 L1373.4,174.8 L1374.6,168.5 L1373.4,163.5 L1377.0,162.3 L1379.5,168.5 L1382.0,172.3 L1389.5,173.5 L1399.5,168.5 L1408.2,167.3 L1410.6,172.3 L1418.2,177.4 L1426.8,181.2 L1436.8,177.4 L1446.8,174.8 L1459.2,174.8 L1463.0,182.4 L1465.4,189.9 L1471.6,191.2 L1476.6,187.4 L1481.6,192.4 L1489.1,197.5 L1494.1,196.3 L1500.2,202.5 L1506.5,208.7 L1511.5,211.4 L1518.9,207.5 L1527.7,205.0 L1536.4,205.0 L1537.7,210.0 L1532.7,215.1 L1533.9,220.1 L1528.9,227.6 L1536.4,233.9 L1540.1,240.2 L1535.1,245.2 L1526.4,251.6 L1518.9,257.8 L1523.9,252.8 L1518.9,260.3 L1512.8,267.9 L1514.0,275.4 L1511.5,283.0 L1504.0,290.5 L1494.1,295.5 L1486.6,299.3 L1481.6,306.9 L1481.6,314.4 L1475.3,320.7 L1472.9,328.2 L1468.0,335.8 L1465.4,342.1 L1456.7,345.8 L1449.2,344.5 L1444.3,348.4 L1440.5,338.3 L1431.8,335.8 L1421.9,337.1 L1416.9,333.3 L1409.4,328.2 L1401.9,325.7 L1394.5,324.4 L1390.7,328.2 L1388.3,334.5 L1382.0,339.5 L1384.5,345.8 L1389.5,350.9 L1388.3,358.4 L1382.0,366.0 L1374.6,371.0 L1369.6,378.5 L1370.8,384.8 L1377.0,389.8 L1385.7,394.8 L1388.3,401.2 L1390.7,408.7 L1392.0,408.7 L1401.9,418.8 L1414.4,420.0 L1418.2,427.6 L1420.6,438.9 L1424.3,446.4 L1418.2,443.9 L1413.2,436.4 L1404.4,433.9 L1397.0,438.9 L1389.5,443.9 L1384.5,447.7 L1385.7,455.2 L1392.0,459.0 L1397.0,461.5 L1399.5,469.1 L1406.9,470.3 L1413.2,467.9 L1418.2,471.6 L1421.9,477.9 L1420.6,484.2 L1423.2,490.4 L1415.6,495.4 L1404.4,496.7 L1394.5,498.0 L1387.0,500.4 L1379.5,495.4 L1373.4,494.2 L1367.1,496.7 L1364.6,489.2 L1364.6,481.6 L1359.6,474.1 L1354.6,471.6 L1349.7,476.6 L1342.2,484.2 L1333.5,488.0 L1326.0,485.4 L1319.8,480.3 L1314.8,476.6 L1318.6,471.6 L1323.6,464.0 L1317.3,457.8 L1312.3,451.5 L1311.0,445.1 L1316.0,441.4 L1312.3,438.9 L1302.4,438.9 L1294.9,440.1 L1289.9,442.7 L1291.1,451.5 L1289.9,460.2 L1282.4,465.2 L1276.2,467.9 L1271.2,471.6 L1273.8,480.3 L1271.2,489.2 L1266.2,496.7 L1260.0,504.3 L1257.6,509.3 L1252.6,516.8 L1245.1,519.4 L1239.1,526.9 L1236.9,535.7 L1240.1,547.0 L1243.6,559.6 L1246.1,572.2 L1245.1,580.4 L1241.3,587.5 L1246.3,574.7 L1242.6,586.1 L1232.7,589.0 L1226.4,594.1 L1219.0,587.5 L1210.3,592.8 L1202.8,596.6 L1195.3,604.2 L1189.1,601.6 L1182.9,604.2 L1177.9,596.6 L1170.4,592.8 L1172.9,586.1 L1167.9,577.5 L1160.5,573.5 L1161.7,567.1 L1164.3,559.6 L1160.5,554.6 L1155.5,545.7 L1148.0,539.5 L1146.7,531.9 L1140.6,526.9 L1138.1,519.4 L1133.1,509.3 L1128.1,499.2 L1124.4,489.2 L1120.6,485.4 L1110.7,489.2 L1103.2,495.4 L1098.2,484.2 L1090.8,476.6 L1087.0,466.5 L1093.3,461.5 L1090.8,454.0 L1083.3,443.9 L1077.0,436.4 L1070.8,428.8 L1071.8,425.8 L1067.9,427.3 L1064.7,428.8 L1060.9,438.9 L1057.1,446.4 L1054.7,456.5 L1053.4,469.1 L1048.4,461.5 L1043.5,451.5 L1041.0,438.9 L1038.5,428.8 L1038.5,423.8 L1039.8,411.2 L1037.2,401.2 L1037.2,389.8 L1034.8,378.5 L1032.2,369.7 L1034.8,360.9 L1037.2,352.2 L1034.8,345.8 L1033.5,333.3 L1032.2,322.0 L1028.5,313.1 L1029.8,305.6 L1028.5,298.1 L1022.3,291.8 L1021.1,283.0 L1014.9,277.9 L1011.1,270.4 L1013.6,264.1 L1018.6,260.3 L1021.1,252.8 L1023.5,252.8 L1016.1,245.2 L1008.6,237.7 L1004.9,230.2 L1003.6,222.6 L998.7,215.1 L993.7,207.5 L992.4,197.5 L986.2,192.4 L977.4,189.9 L971.3,187.4 L963.8,182.4 L955.1,177.4 L948.9,169.8 L945.2,163.5 L946.4,159.7 L951.4,152.2 L953.8,144.7 L958.8,139.6 L963.8,134.6 L963.8,129.6 L958.8,120.8 L953.8,117.0 L950.2,109.5 L946.4,104.4 L947.6,100.7 L953.8,99.4 L962.5,95.7 L963.8,88.0 L967.5,81.8Z" fill="none" stroke="#7f8790" stroke-width="1.4" stroke-linejoin="round"/>
<rect x="90.75" y="280.4" width="61.5" height="287.5" fill="#fff" fill-opacity="0.88" stroke="#e3e5ea" stroke-width="1"/>
<text x="122.25" y="304.7" text-anchor="middle" font-size="12.5" font-weight="bold" fill="#4d5566" textLength="40" lengthAdjust="spacingAndGlyphs">图例(%)</text>
<rect x="98.75" y="310.1" width="20" height="27.65" fill="#264ba7"/>
<rect x="98.75" y="337.6" width="20" height="27.65" fill="#1a5fb0"/>
<line x1="98.75" y1="337.6" x2="118.75" y2="337.6" stroke="#fff" stroke-opacity="0.3" stroke-width="0.8"/>
<rect x="98.75" y="365.2" width="20" height="27.65" fill="#3d8be0"/>
<line x1="98.75" y1="365.2" x2="118.75" y2="365.2" stroke="#fff" stroke-opacity="0.3" stroke-width="0.8"/>
<rect x="98.75" y="392.8" width="20" height="27.65" fill="#79c6f4"/>
<line x1="98.75" y1="392.8" x2="118.75" y2="392.8" stroke="#fff" stroke-opacity="0.3" stroke-width="0.8"/>
<rect x="98.75" y="420.3" width="20" height="27.65" fill="#a5f2f5"/>
<line x1="98.75" y1="420.3" x2="118.75" y2="420.3" stroke="#fff" stroke-opacity="0.3" stroke-width="0.8"/>
<rect x="98.75" y="447.8" width="20" height="27.65" fill="#fffbba"/>
<line x1="98.75" y1="447.8" x2="118.75" y2="447.8" stroke="#fff" stroke-opacity="0.3" stroke-width="0.8"/>
<rect x="98.75" y="475.4" width="20" height="27.65" fill="#fdb165"/>
<line x1="98.75" y1="475.4" x2="118.75" y2="475.4" stroke="#fff" stroke-opacity="0.3" stroke-width="0.8"/>
<rect x="98.75" y="502.9" width="20" height="27.65" fill="#e0432c"/>
<line x1="98.75" y1="502.9" x2="118.75" y2="502.9" stroke="#fff" stroke-opacity="0.3" stroke-width="0.8"/>
<rect x="98.75" y="530.5" width="20" height="27.65" fill="#9c2238"/>
<line x1="98.75" y1="530.5" x2="118.75" y2="530.5" stroke="#fff" stroke-opacity="0.3" stroke-width="0.8"/>
<text class="lg" x="123.05" y="341.3" textLength="22.3" lengthAdjust="spacingAndGlyphs">115.0</text>
<text class="lg" x="123.05" y="368.9" textLength="17.4" lengthAdjust="spacingAndGlyphs">86.3</text>
<text class="lg" x="123.05" y="396.4" textLength="17.4" lengthAdjust="spacingAndGlyphs">57.5</text>
<text class="lg" x="123.05" y="424.0" textLength="17.4" lengthAdjust="spacingAndGlyphs">28.8</text>
<text class="lg" x="123.05" y="451.5" textLength="12.5" lengthAdjust="spacingAndGlyphs">0.0</text>
<text class="lg" x="123.05" y="479.1" textLength="22.3" lengthAdjust="spacingAndGlyphs">-19.0</text>
<text class="lg" x="123.05" y="506.6" textLength="22.3" lengthAdjust="spacingAndGlyphs">-38.0</text>
<text class="lg" x="123.05" y="534.2" textLength="22.3" lengthAdjust="spacingAndGlyphs">-57.0</text>
<text class="lg" x="123.05" y="557.2" textLength="22.3" lengthAdjust="spacingAndGlyphs">-76.0</text>
<rect x="884.4" y="281.9" width="61.5" height="287.5" fill="#fff" fill-opacity="0.88" stroke="#e3e5ea" stroke-width="1"/>
<text x="915.9" y="306.2" text-anchor="middle" font-size="12.5" font-weight="bold" fill="#4d5566" textLength="40" lengthAdjust="spacingAndGlyphs">图例(天)</text>
<rect x="892.4" y="311.6" width="20" height="27.90" fill="#264ba7"/>
<rect x="892.4" y="339.4" width="20" height="27.90" fill="#1a5fb0"/>
<line x1="892.4" y1="339.4" x2="912.4" y2="339.4" stroke="#fff" stroke-opacity="0.3" stroke-width="0.8"/>
<rect x="892.4" y="367.2" width="20" height="27.90" fill="#3d8be0"/>
<line x1="892.4" y1="367.2" x2="912.4" y2="367.2" stroke="#fff" stroke-opacity="0.3" stroke-width="0.8"/>
<rect x="892.4" y="395.0" width="20" height="27.90" fill="#79c6f4"/>
<line x1="892.4" y1="395.0" x2="912.4" y2="395.0" stroke="#fff" stroke-opacity="0.3" stroke-width="0.8"/>
<rect x="892.4" y="422.8" width="20" height="27.90" fill="#a5f2f5"/>
<line x1="892.4" y1="422.8" x2="912.4" y2="422.8" stroke="#fff" stroke-opacity="0.3" stroke-width="0.8"/>
<rect x="892.4" y="450.6" width="20" height="27.90" fill="#fffbba"/>
<line x1="892.4" y1="450.6" x2="912.4" y2="450.6" stroke="#fff" stroke-opacity="0.3" stroke-width="0.8"/>
<rect x="892.4" y="478.4" width="20" height="27.90" fill="#fdb165"/>
<line x1="892.4" y1="478.4" x2="912.4" y2="478.4" stroke="#fff" stroke-opacity="0.3" stroke-width="0.8"/>
<rect x="892.4" y="506.2" width="20" height="27.90" fill="#e0432c"/>
<line x1="892.4" y1="506.2" x2="912.4" y2="506.2" stroke="#fff" stroke-opacity="0.3" stroke-width="0.8"/>
<rect x="892.4" y="534.0" width="20" height="27.90" fill="#9c2238"/>
<line x1="892.4" y1="534.0" x2="912.4" y2="534.0" stroke="#fff" stroke-opacity="0.3" stroke-width="0.8"/>
<text class="lg" x="916.6999999999999" y="343.1" textLength="17.4" lengthAdjust="spacingAndGlyphs">24.0</text>
<text class="lg" x="916.6999999999999" y="370.9" textLength="17.4" lengthAdjust="spacingAndGlyphs">18.0</text>
<text class="lg" x="916.6999999999999" y="398.7" textLength="17.4" lengthAdjust="spacingAndGlyphs">12.0</text>
<text class="lg" x="916.6999999999999" y="426.5" textLength="12.5" lengthAdjust="spacingAndGlyphs">6.0</text>
<text class="lg" x="916.6999999999999" y="454.3" textLength="12.5" lengthAdjust="spacingAndGlyphs">0.0</text>
<text class="lg" x="916.6999999999999" y="482.1" textLength="17.4" lengthAdjust="spacingAndGlyphs">-3.8</text>
<text class="lg" x="916.6999999999999" y="509.9" textLength="17.4" lengthAdjust="spacingAndGlyphs">-7.5</text>
<text class="lg" x="916.6999999999999" y="537.7" textLength="22.3" lengthAdjust="spacingAndGlyphs">-11.3</text>
<text class="lg" x="916.6999999999999" y="561.0" textLength="22.3" lengthAdjust="spacingAndGlyphs">-15.0</text>
<path d="M89.3,578.0V605.9M89.3,591.6H136.3M136.3,578.0V591.6M126.3,591.6V605.9" stroke="#111" stroke-width="1.6" fill="none"/>
<text x="113.3" y="587.1" text-anchor="middle" font-size="9.5" fill="#777" textLength="25" lengthAdjust="spacingAndGlyphs">100 km</text>
<text x="108.3" y="602.1" text-anchor="middle" font-size="9.5" fill="#777" textLength="19" lengthAdjust="spacingAndGlyphs">50 mi</text>
<path d="M880,577.1999999999999V605.0999999999999M880,590.8H927M927,577.1999999999999V590.8M917,590.8V605.0999999999999" stroke="#111" stroke-width="1.6" fill="none"/>
<text x="904" y="586.3" text-anchor="middle" font-size="9.5" fill="#777" textLength="25" lengthAdjust="spacingAndGlyphs">100 km</text>
<text x="899" y="601.3" text-anchor="middle" font-size="9.5" fill="#777" textLength="19" lengthAdjust="spacingAndGlyphs">50 mi</text>
<text x="820" y="615.5" text-anchor="end" font-size="9.5" fill="#9a9a9a" textLength="77" lengthAdjust="spacingAndGlyphs">107.25907, 32.28639</text>
<text x="1610" y="615.5" text-anchor="end" font-size="9.5" fill="#9a9a9a" textLength="77" lengthAdjust="spacingAndGlyphs">108.16106, 31.34518</text>
<text x="276.8" y="747.5" font-size="38.4" fill="#111" style="font-family:'Liberation Serif','Noto Serif CJK SC',serif;font-weight:300" textLength="1229" lengthAdjust="spacing">四川省今年以来降水量距平率百分率（左）及降水日数距平（右）分布图</text>
<rect x="202" y="716" width="1.2" height="1.2" fill="#888"/>
</svg></body></html>
